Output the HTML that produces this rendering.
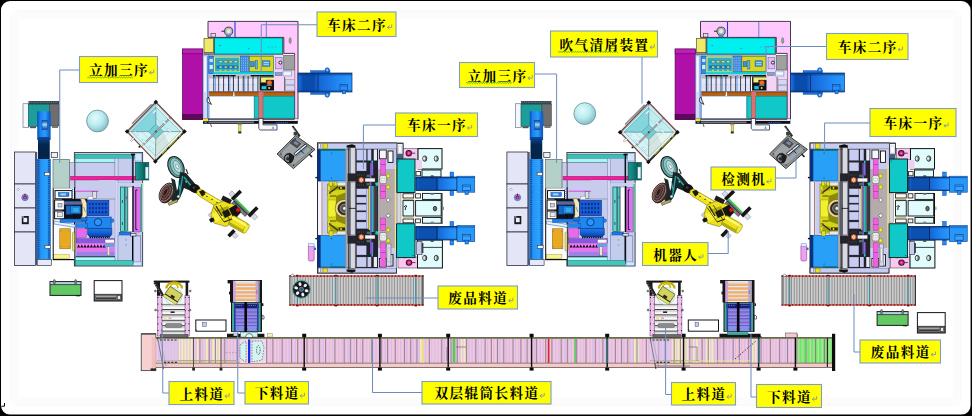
<!DOCTYPE html>
<html><head><meta charset="utf-8"><title>layout</title>
<style>html,body{margin:0;padding:0;background:#000;overflow:hidden;font-family:"Liberation Sans",sans-serif}svg{display:block}.lb{font-family:"Liberation Serif","Noto Serif CJK SC",serif;font-size:13.6px;font-weight:bold;fill:#000}</style>
</head><body>
<svg width="972" height="416" viewBox="0 0 972 416">
<defs>

<linearGradient id="colG" x1="0" x2="1" y1="0" y2="0"><stop offset="0" stop-color="#0a4aa8"/><stop offset=".2" stop-color="#1a80f0"/><stop offset=".6" stop-color="#2a9cff"/><stop offset="1" stop-color="#0c50b0"/></linearGradient>
<linearGradient id="navG" x1="0" x2="0" y1="0" y2="1"><stop offset="0" stop-color="#0c4a9c"/><stop offset=".35" stop-color="#04264e"/><stop offset="1" stop-color="#032447"/></linearGradient>
<linearGradient id="colG2" x1="0" x2="1" y1="0" y2="0"><stop offset="0" stop-color="#1568c8"/><stop offset=".3" stop-color="#2496f4"/><stop offset=".7" stop-color="#2ea2ff"/><stop offset="1" stop-color="#1568c8"/></linearGradient>
<linearGradient id="cylH" x1="0" x2="0" y1="0" y2="1"><stop offset="0" stop-color="#0a4aa8"/><stop offset=".45" stop-color="#9adcff"/><stop offset="1" stop-color="#0a4aa8"/></linearGradient>
<linearGradient id="tealCyl" x1="0" x2="1" y1="0" y2="0"><stop offset="0" stop-color="#1a9a92"/><stop offset=".45" stop-color="#0e7a74"/><stop offset=".7" stop-color="#0a5a56"/><stop offset="1" stop-color="#0e7a74"/></linearGradient>
<linearGradient id="baseG" x1="0" x2="0" y1="0" y2="1"><stop offset="0" stop-color="#1c7cf0"/><stop offset=".5" stop-color="#1460d8"/><stop offset="1" stop-color="#0a3a98"/></linearGradient>
<pattern id="gridP" width="3.2" height="4.1" patternUnits="userSpaceOnUse" x="88.4" y="202"><rect width="3.2" height="4.1" fill="#1560e0"/><rect x=".5" y=".7" width="1.7" height="2.6" fill="#0a2a78"/></pattern>
<radialGradient id="sphG" cx=".4" cy=".36" r=".68"><stop offset="0" stop-color="#e0fbfc"/><stop offset=".5" stop-color="#bcecf0"/><stop offset="1" stop-color="#7fbcc4"/></radialGradient>
<linearGradient id="convL" x1="0" x2="1" y1="0" y2="0"><stop offset="0" stop-color="#1c78ec"/><stop offset=".25" stop-color="#0a4cac"/><stop offset=".8" stop-color="#0a4cac"/><stop offset="1" stop-color="#1868d8"/></linearGradient>
<linearGradient id="convR" x1="0" x2="1" y1="0" y2="0"><stop offset="0" stop-color="#1464d4"/><stop offset=".6" stop-color="#2088f4"/><stop offset="1" stop-color="#2a98fc"/></linearGradient>
<linearGradient id="convV" x1="0" x2="0" y1="0" y2="1"><stop offset="0" stop-color="#062a68" stop-opacity=".75"/><stop offset=".18" stop-color="#062a68" stop-opacity="0"/><stop offset=".85" stop-color="#062a68" stop-opacity="0"/><stop offset="1" stop-color="#062a68" stop-opacity=".55"/></linearGradient>
<pattern id="rollP" width="2.7" height="10" patternUnits="userSpaceOnUse"><rect width="2.7" height="10" fill="#b8b8b8"/><rect x="0" width=".65" height="10" fill="#7e7e7e"/><rect x="1.3" width=".75" height="10" fill="#e6e6e6"/></pattern>
<pattern id="pinkP" width="3.1" height="10" patternUnits="userSpaceOnUse"><rect width="3.1" height="10" fill="#f8c8d2"/><rect x=".2" width="1.4" height="10" fill="#d4bcf2"/></pattern>
<pattern id="pinkY" width="3.1" height="10" patternUnits="userSpaceOnUse"><rect width="3.1" height="10" fill="#f2f0b0"/><rect x=".2" width="1.4" height="10" fill="#e4c4f0"/></pattern>
<pattern id="greenP" width="3.9" height="10" patternUnits="userSpaceOnUse"><rect width="3.9" height="10" fill="#62f062"/><rect x="2.5" width="1.1" height="10" fill="#f4c8d0"/></pattern>
<pattern id="orgP" width="10" height="3.75" patternUnits="userSpaceOnUse" y="282.4"><rect width="10" height="3.75" fill="#c8c8c8"/><rect y="0" width="10" height=".9" fill="#f4f4f4"/><rect y="1.5" width="10" height="2.25" fill="#f2b070"/></pattern>
<pattern id="purP" width="10" height="3.4" patternUnits="userSpaceOnUse" y="308"><rect width="10" height="3.4" fill="#5c5cd0"/><rect y="1.1" width="10" height="1.5" fill="#a07cd4"/><rect y="2.6" width="10" height=".8" fill="#86a0e8"/></pattern>
<pattern id="slatP" width="10" height="5.4" patternUnits="userSpaceOnUse" y="303.6"><rect width="10" height="5.4" fill="#fafafa"/><rect y="0" width="10" height="1.1" fill="#3a3a3a"/><rect y="1.1" width="10" height="1.9" fill="#d4d4d4"/></pattern>

<g id="mA">
<rect x="23" y="103.75" width="5.75" height="23.75" fill="#f4f6fa" stroke="#5a6a80" stroke-width="0.6"/>
<rect x="28.5" y="101" width="30.5" height="3.6" fill="#3a4448"/>
<path d="M29 102.2L58 102.2" stroke="#5a9ad0" stroke-width="0.8" fill="none" stroke-dasharray="1.2 1"/>
<rect x="28.5" y="104.4" width="21.1" height="21.85" fill="#1d9e9a" stroke="#0c5a58" stroke-width="0.6"/>
<rect x="49.4" y="104.4" width="9.6" height="21.6" fill="#6e6e6e" stroke="#404040" stroke-width="0.5"/>
<rect x="30" y="126.25" width="6" height="1.95" fill="#555"/>
<rect x="52" y="126" width="6" height="2" fill="#777"/>
<rect x="14.4" y="152" width="21" height="32" fill="#e4e6f8" stroke="#2a2f3a" stroke-width="0.8"/>
<rect x="14.4" y="184" width="21" height="24" fill="#e4e6f8" stroke="#2a2f3a" stroke-width="0.8"/>
<rect x="14.4" y="208" width="21" height="24" fill="#e4e6f8" stroke="#2a2f3a" stroke-width="0.8"/>
<rect x="14.4" y="232" width="21" height="33.4" fill="#e4e6f8" stroke="#2a2f3a" stroke-width="0.8"/>
<rect x="35.4" y="152" width="1.8" height="113.4" fill="#4a5a78"/>
<circle cx="25" cy="197.5" r="3.2" fill="#6aa8e8" stroke="#2a5ab0" stroke-width="0.6"/>
<circle cx="25" cy="197.5" r="2.1" fill="#c01850"/>
<circle cx="25" cy="197.8" r="0.9" fill="#6a80d8"/>
<path d="M25 193.6L25 196" stroke="#a01040" stroke-width="1" fill="none" />
<path d="M18.3 188.2L19.5 189.4L18.3 190.6L17.1 189.4Z" fill="#fff" stroke="#444" stroke-width="0.4"/>
<rect x="21.8" y="216" width="7" height="8.2" fill="#1a1a22"/>
<rect x="23.4" y="217.8" width="3.8" height="4.4" fill="#f0f0f4"/>
<rect x="22" y="216.2" width="2" height="1.6" fill="#5a9ae0"/>
<rect x="37.25" y="111.25" width="13.35" height="28.75" fill="url(#colG)"/>
<rect x="38" y="137" width="11.75" height="22" fill="url(#navG)"/>
<rect x="37" y="159" width="13.8" height="106.4" fill="url(#colG2)"/>
<path d="M38.6 160L38.6 259" stroke="#0c4a9a" stroke-width="1.6" fill="none" stroke-dasharray="1 1.1"/>
<path d="M48.9 160L48.9 259" stroke="#0c4a9a" stroke-width="1.6" fill="none" stroke-dasharray="1 1.1"/>
<rect x="37.2" y="259.4" width="14.4" height="6" fill="#e6e8fa" stroke="#2a2f3a" stroke-width="0.6"/>
<rect x="42" y="120.6" width="5.5" height="8.8" fill="url(#cylH)" stroke="#0a3a80" stroke-width="0.5"/>
<path d="M47.5 119L51 116.5L51 125L47.5 125Z" fill="#1464d0"/>
<rect x="51.25" y="152.5" width="6.25" height="5.1" fill="#eef0fa" stroke="#2a2f3a" stroke-width="0.7"/>
<rect x="44.6" y="172.4" width="5.2" height="3.2" fill="#f6f6f6" stroke="#223" stroke-width="0.5"/>
<rect x="45" y="245.4" width="5.6" height="3" fill="#f6f6f6" stroke="#223" stroke-width="0.5"/>
<rect x="53" y="159.4" width="16.6" height="28.8" fill="#b5d0c8" stroke="#4a5a60" stroke-width="0.6"/>
<rect x="74.4" y="152.5" width="68.2" height="113.5" fill="#c8ccec" stroke="#4a4a52" stroke-width="1"/>
<rect x="69.6" y="162.5" width="4.8" height="25.9" fill="#c8ccec" stroke="#5a6078" stroke-width="0.5"/>
<rect x="75.2" y="154.2" width="59.8" height="4" fill="#3dbfb0" stroke="#1a6a66" stroke-width="0.4"/>
<rect x="135" y="153.4" width="6.8" height="7.6" fill="#d8e4f8" stroke="#5a9ae0" stroke-width="0.5"/>
<rect x="75.2" y="158.6" width="39.8" height="4" fill="#a8f4f4" stroke="#2a8a9a" stroke-width="0.4"/>
<rect x="75.2" y="162.6" width="39.8" height="36.4" fill="#c8ccec" stroke="#5a6078" stroke-width="0.5"/>
<rect x="118" y="158.6" width="14" height="24.4" fill="#c8ccec" stroke="#5a9ae0" stroke-width="0.5"/>
<rect x="115" y="158.6" width="3" height="102" fill="#d4d8f4" stroke="#7a86b0" stroke-width="0.4"/>
<rect x="70.6" y="176.25" width="69" height="3.75" fill="#f0209c" stroke="#901060" stroke-width="0.4"/>
<rect x="135.6" y="162.5" width="13.2" height="17.5" fill="url(#tealCyl)" stroke="#083c3a" stroke-width="0.6"/>
<rect x="145.2" y="167" width="3.2" height="11.6" fill="#e8f4f8" stroke="#3a8ab0" stroke-width="0.4"/>
<rect x="132.2" y="154.4" width="1.4" height="31" fill="#0a0a10"/>
<rect x="131" y="153.6" width="4" height="1.8" fill="#0a0a10"/>
<rect x="119.4" y="184.4" width="12.6" height="2.6" fill="#1a7af0" stroke="#0a3a90" stroke-width="0.4"/>
<rect x="119.4" y="232" width="11.6" height="2.8" fill="#1a7af0" stroke="#0a3a90" stroke-width="0.4"/>
<rect x="118" y="183" width="25" height="49" fill="#c8d0f0"/>
<rect x="120.4" y="187" width="4" height="44.6" fill="#60d8d0" stroke="#0c3c3a" stroke-width="0.6"/>
<rect x="125" y="187" width="2.4" height="44.6" fill="#50c8c0" stroke="#0c3c3a" stroke-width="0.5"/>
<rect x="128" y="187" width="4.4" height="44.6" fill="#ffffff" stroke="#555" stroke-width="0.4"/>
<rect x="132.4" y="186" width="1.4" height="46" fill="#08080c"/>
<rect x="133.8" y="187.5" width="6.8" height="44.5" fill="#e070f0" stroke="#602080" stroke-width="0.4"/>
<path d="M137.6 190L135.8 190L135.8 229.6L137.6 229.6" fill="none" stroke="#101018" stroke-width="0.9"/>
<rect x="141" y="184" width="1.2" height="48" fill="#20c060"/>
<path d="M122.4 200L122.4 203" stroke="#1a2a8a" stroke-width="0.8" fill="none" />
<path d="M122.4 222L122.4 225" stroke="#1a2a8a" stroke-width="0.8" fill="none" />
<path d="M126.4 196L126.4 199" stroke="#c020c0" stroke-width="0.8" fill="none" />
<rect x="118" y="235.6" width="22.2" height="25.2" fill="#c4ccec" stroke="#5a8ad8" stroke-width="0.5"/>
<rect x="132" y="235" width="1.6" height="28.8" fill="#08080c"/>
<rect x="133.6" y="236" width="6.6" height="26" fill="#ccd2f0" stroke="#4a6a9a" stroke-width="0.4"/>
<path d="M125 240L127 240" stroke="#5a8ad8" stroke-width="0.7" fill="none" />
<path d="M125 245L127 245" stroke="#5a8ad8" stroke-width="0.7" fill="none" />
<rect x="130.4" y="233.6" width="5.6" height="2.4" fill="#dfe6fa" stroke="#111" stroke-width="0.5"/>
<rect x="70.6" y="188.2" width="28.2" height="2.8" fill="#c8ccec"/>
<path d="M76 191.2L98.8 191.2" stroke="#e040e0" stroke-width="1" fill="none" />
<rect x="98.8" y="180" width="16.2" height="18.2" fill="#c8ccec"/>
<rect x="53.4" y="188.6" width="21" height="71.4" fill="#fafbff"/>
<rect x="55" y="190.6" width="17" height="8.2" fill="#fdfdff" stroke="#0a0a10" stroke-width="1"/>
<rect x="58.4" y="192.4" width="10.6" height="4.2" fill="#2a84e4" stroke="#0a3a90" stroke-width="0.4"/>
<rect x="60.4" y="193.4" width="5.6" height="2" fill="#a8d4fa"/>
<rect x="62" y="198.8" width="25.2" height="22.2" fill="#12121a"/>
<path d="M74.6 187.5L74.6 228" stroke="#0a0a10" stroke-width="1.2" fill="none" />
<path d="M72.6 189L72.6 199" stroke="#2a7ad8" stroke-width="1.2" fill="none" stroke-dasharray="1 1"/>
<rect x="54.6" y="200" width="9.8" height="10" fill="#fdfdff" stroke="#0a0a10" stroke-width="1"/>
<rect x="54.6" y="211" width="9.8" height="7.8" fill="#fdfdff" stroke="#0a0a10" stroke-width="1"/>
<rect x="58" y="203.4" width="4" height="3.6" fill="#d0d4e8" stroke="#333" stroke-width="0.4"/>
<rect x="57.6" y="212.6" width="5" height="4.2" fill="#e8eaf6" stroke="#333" stroke-width="0.4"/>
<path d="M66 210.5L76 210.5" stroke="#0a0a10" stroke-width="1.2" fill="none" />
<path d="M54 221L75 224.5L75 227.4L54 224Z" fill="#eaf2fc" stroke="#1a5ab0" stroke-width="0.5"/>
<rect x="60" y="219" width="26" height="3.4" fill="#1a80ec" stroke="#0a3a90" stroke-width="0.4"/>
<rect x="64" y="201.4" width="20" height="3.2" fill="#2a8ae8"/>
<path d="M64 203L83 203" stroke="#c03020" stroke-width="0.9" fill="none" />
<path d="M80.6 198.8L84.5 198.8L87 203.5L87 215.5L84.5 220.2L80.6 220.2L82.4 215L82.4 204Z" fill="#f8e8b0" stroke="#9a8a50" stroke-width="0.4"/>
<rect x="66" y="205.6" width="6" height="8.8" fill="#1868c8" stroke="#0a2a70" stroke-width="0.4"/>
<rect x="70.6" y="206" width="10.2" height="7.8" fill="#2090e0" stroke="#0a3a80" stroke-width="0.6"/>
<rect x="73" y="207.6" width="6" height="4.6" fill="#3aa8f0" stroke="#1a5ab0" stroke-width="0.3"/>
<path d="M83.6 207L85.4 212" stroke="#2a7ad8" stroke-width="0.7" fill="none" />
<rect x="92.6" y="191.6" width="3.8" height="7" fill="#e0e0e4" stroke="#445" stroke-width="0.5"/>
<rect x="88" y="196.4" width="5" height="3" fill="#f4f4f8" stroke="#667" stroke-width="0.3"/>
<rect x="87" y="200.6" width="21.8" height="15" fill="#1560e0" stroke="#0a2a80" stroke-width="0.7"/>
<rect x="88.4" y="202" width="19" height="12.4" fill="url(#gridP)"/>
<rect x="85.6" y="217" width="25.6" height="11.4" fill="#1e88f0" stroke="#0a3a90" stroke-width="0.6"/>
<rect x="81" y="217.6" width="6" height="3.4" fill="#1a70d8" stroke="#0a3a90" stroke-width="0.4"/>
<rect x="76" y="223.6" width="11.6" height="3.8" fill="#1e88f0" stroke="#0a3a90" stroke-width="0.4"/>
<circle cx="98" cy="222.2" r="3.7" fill="#2a96f8" stroke="#0a3080" stroke-width="0.9"/>
<circle cx="112.2" cy="220.6" r="1.8" fill="#1e88f0" stroke="#0a3a90" stroke-width="0.4"/>
<path d="M87.6 228.4L111.8 228.4L111.8 234.4L109.6 237L89.8 237L87.6 234.4Z" fill="url(#baseG)" stroke="#062060" stroke-width="0.5"/>
<path d="M89.6 237.6L110 237.6" stroke="#050510" stroke-width="1.2" fill="none" stroke-dasharray="1.3 .9"/>
<rect x="59.75" y="228.75" width="10.65" height="20.05" fill="#e8a820" stroke="#8a6010" stroke-width="0.5"/>
<circle cx="61" cy="231" r="0.55" fill="#3a90d0"/>
<circle cx="69" cy="231" r="0.55" fill="#3a90d0"/>
<circle cx="61" cy="246.6" r="0.55" fill="#3a90d0"/>
<circle cx="69" cy="246.6" r="0.55" fill="#3a90d0"/>
<rect x="72.5" y="232" width="3.5" height="19" fill="#f0e870" stroke="#7a7430" stroke-width="0.5" rx="1.2"/>
<rect x="53.75" y="254.4" width="15.65" height="4.4" fill="#f8f488" stroke="#9a9440" stroke-width="0.4"/>
<path d="M53 259.6L74.4 259.6" stroke="#0a0a10" stroke-width="1.2" fill="none" />
<path d="M53.2 188.4L53.2 260" stroke="#0a0a10" stroke-width="1" fill="none" />
<rect x="76.25" y="228.75" width="10.15" height="8.75" fill="#e868f0" stroke="#803090" stroke-width="0.4"/>
<rect x="76.25" y="238.75" width="38.35" height="4.45" fill="#8858e0" stroke="#3a2080" stroke-width="0.4"/>
<rect x="105" y="239.4" width="9.4" height="3.6" fill="#f8f8ff" stroke="#556" stroke-width="0.4"/>
<rect x="76.25" y="243.4" width="38.35" height="4.6" fill="#f078f0"/>
<path d="M77 247.4 l1.6 -3 1.6 3 1.6 -3 1.6 3 1.6 -3 1.6 3 1.6 -3 1.6 3 1.6 -3 1.6 3 1.6 -3 1.6 3 1.6 -3 1.6 3 1.6 -3 1.6 3 1.6 -3 1.6 3z" fill="#0a0a14"/>
<rect x="104.6" y="244" width="10" height="3" fill="#5aa8e8"/>
<rect x="76.25" y="248" width="38.35" height="3.4" fill="#f070f0"/>
<rect x="76.25" y="251.4" width="38.35" height="4.4" fill="#a080e8"/>
<rect x="107.2" y="246.8" width="2.6" height="9" fill="#e8e8d8" stroke="#666" stroke-width="0.4"/>
<path d="M75.6 256.4L115 256.4" stroke="#3a3a48" stroke-width="1" fill="none" />
<rect x="75" y="257.2" width="40" height="3.6" fill="#b0f8f8" stroke="#2a8a9a" stroke-width="0.4"/>
<rect x="75" y="260.8" width="58" height="4.4" fill="#40c8b8" stroke="#1a6a66" stroke-width="0.4"/>
<rect x="133.6" y="262" width="8" height="3.4" fill="#d8e4f8" stroke="#5a9ae0" stroke-width="0.4"/>
<path d="M74.9 228L74.9 266" stroke="#3a3a48" stroke-width="1" fill="none" />
</g>
<g id="l2">
<rect x="182.6" y="49" width="20.2" height="70.4" fill="#b010a8" stroke="#400840" stroke-width="0.7"/>
<rect x="182.6" y="49" width="20.2" height="4.8" fill="#c41cbc" stroke="#400840" stroke-width="0.5"/>
<rect x="182.6" y="114.4" width="20.2" height="5" fill="#600860" stroke="#300430" stroke-width="0.5"/>
<path d="M208 21.4L298 21.4L298 119L294.6 119L294.6 53.4L283.8 53.4L283.8 37.4L208 37.4Z" fill="#ffc8ff" stroke="#2a2a32" stroke-width="0.9"/>
<path d="M235 22L235 37" stroke="#1a40d8" stroke-width="1.1" fill="none" />
<path d="M266.3 22L266.3 37" stroke="#3a70d0" stroke-width="0.8" fill="none" />
<circle cx="228.6" cy="31.2" r="4.1" fill="#b8bcc0" stroke="#3a3a3a" stroke-width="0.9"/>
<circle cx="228.6" cy="31.2" r="2.6" fill="#e6e8ea" stroke="#8a8a8a" stroke-width="0.5"/>
<path d="M221.5 31.2L224.6 31.2" stroke="#222" stroke-width="1" fill="none" />
<rect x="226" y="35" width="5" height="2" fill="#3a8ad0"/>
<rect x="211" y="33.6" width="4.4" height="3.4" fill="#e8d8f0" stroke="#333" stroke-width="0.6"/>
<ellipse cx="290.2" cy="40.6" rx="1.1" ry="3" fill="#9ab09a" stroke="#4a5a4a" stroke-width="0.5"/>
<rect x="204" y="38.5" width="9.4" height="13.9" fill="#f0e868" stroke="#5a5630" stroke-width="0.7"/>
<rect x="204" y="52.4" width="9.4" height="2.6" fill="#8a8a80" stroke="#444" stroke-width="0.4"/>
<rect x="214.25" y="37.75" width="68.55" height="16.45" fill="#00f0f0" stroke="#3a3a40" stroke-width="1"/>
<path d="M214.4 54.6L283 54.6" stroke="#777" stroke-width="0.8" fill="none" />
<rect x="268" y="46.6" width="1.2" height="0.8" fill="#2a8ad8"/>
<rect x="271.6" y="46.6" width="1.2" height="0.8" fill="#2a8ad8"/>
<rect x="275.2" y="46.6" width="1.2" height="0.8" fill="#2a8ad8"/>
<rect x="219" y="45" width="1.4" height="1" fill="#2a8ad8"/>
<rect x="248" y="48" width="1.2" height="1" fill="#2a8ad8"/>
<rect x="203" y="55" width="5.8" height="63.6" fill="#d4daf6" stroke="#4a6ab0" stroke-width="0.5"/>
<rect x="204.2" y="57" width="1.8" height="35" fill="#f4f6ff"/>
<path d="M207.6 56L207.6 118" stroke="#2a7ad8" stroke-width="0.8" fill="none" />
<rect x="208.8" y="55.4" width="65.2" height="19" fill="#2a9ad8"/>
<rect x="208.8" y="56.4" width="5" height="17.2" fill="#3a8ae0" stroke="#1a4a90" stroke-width="0.4"/>
<rect x="209.6" y="59" width="3.2" height="3" fill="#c8e4fa"/>
<rect x="209.6" y="65" width="3.2" height="4" fill="#d8ecfc"/>
<rect x="214.4" y="57" width="25.6" height="15" fill="#30b0c0" stroke="#e8e870" stroke-width="1.2"/>
<rect x="216.6" y="60.2" width="21.4" height="3.2" fill="#3a98b8"/>
<rect x="216.6" y="65.4" width="21.4" height="3.2" fill="#1a70c0"/>
<rect x="219.6" y="61" width="2.2" height="1.4" fill="#f0e850"/>
<rect x="219.6" y="66.4" width="2.2" height="1.4" fill="#f0e850"/>
<rect x="219.6" y="69.8" width="1.8" height="1" fill="#f0e850"/>
<rect x="224.6" y="61" width="2.2" height="1.4" fill="#f0e850"/>
<rect x="224.6" y="66.4" width="2.2" height="1.4" fill="#f0e850"/>
<rect x="224.6" y="69.8" width="1.8" height="1" fill="#f0e850"/>
<rect x="229.6" y="61" width="2.2" height="1.4" fill="#f0e850"/>
<rect x="229.6" y="66.4" width="2.2" height="1.4" fill="#f0e850"/>
<rect x="229.6" y="69.8" width="1.8" height="1" fill="#f0e850"/>
<rect x="234.6" y="61" width="2.2" height="1.4" fill="#f0e850"/>
<rect x="234.6" y="66.4" width="2.2" height="1.4" fill="#f0e850"/>
<rect x="234.6" y="69.8" width="1.8" height="1" fill="#f0e850"/>
<rect x="227.2" y="60" width="1.4" height="4.5" fill="#a08040"/>
<rect x="240.4" y="56" width="9" height="16.4" fill="#3a88e0" stroke="#1a4a90" stroke-width="0.4"/>
<path d="M241.6 57.4L241.6 71" stroke="#9ac8f4" stroke-width="0.7" fill="none" stroke-dasharray="1.6 .8"/>
<path d="M243.6 57.4L243.6 71" stroke="#9ac8f4" stroke-width="0.7" fill="none" stroke-dasharray="1.6 .8"/>
<path d="M245.6 57.4L245.6 71" stroke="#9ac8f4" stroke-width="0.7" fill="none" stroke-dasharray="1.6 .8"/>
<path d="M247.4 57.4L247.4 71" stroke="#9ac8f4" stroke-width="0.7" fill="none" stroke-dasharray="1.6 .8"/>
<rect x="249.4" y="56.25" width="24.2" height="15.15" fill="#d8d820" stroke="#6a6a20" stroke-width="0.5"/>
<rect x="250.6" y="61.5" width="3.8" height="5.3" fill="#3a90e0" stroke="#1a4a90" stroke-width="0.4"/>
<rect x="255.2" y="60.4" width="2.2" height="8.6" fill="#5ab0f0" stroke="#1a4a90" stroke-width="0.4"/>
<rect x="262.5" y="60.8" width="7.5" height="5.6" fill="#3a90e0" stroke="#1a4a90" stroke-width="0.4"/>
<rect x="263.6" y="62" width="5.4" height="1.2" fill="#a8d8fa"/>
<rect x="263.6" y="64.2" width="5.4" height="1" fill="#a8d8fa"/>
<rect x="213.4" y="72.2" width="60.6" height="2.2" fill="#10d0d8"/>
<rect x="208.8" y="74.6" width="49.8" height="17" fill="#d8dcf4"/>
<rect x="208.8" y="74.6" width="49.8" height="3.8" fill="#b8b8c4"/>
<rect x="209.6" y="79" width="3.6" height="5" fill="#e6e8fa"/>
<rect x="209.6" y="85" width="3.6" height="6" fill="#dfe2f8"/>
<path d="M213.85 76L213.85 91.4" stroke="#22222a" stroke-width="0.9" fill="none" />
<rect x="214.5" y="79" width="3.6" height="5" fill="#e6e8fa"/>
<rect x="214.5" y="85" width="3.6" height="6" fill="#dfe2f8"/>
<path d="M218.75 76L218.75 91.4" stroke="#22222a" stroke-width="0.9" fill="none" />
<rect x="219.4" y="79" width="3.6" height="5" fill="#e6e8fa"/>
<rect x="219.4" y="85" width="3.6" height="6" fill="#dfe2f8"/>
<path d="M223.65 76L223.65 91.4" stroke="#22222a" stroke-width="0.9" fill="none" />
<rect x="224.3" y="79" width="3.6" height="5" fill="#e6e8fa"/>
<rect x="224.3" y="85" width="3.6" height="6" fill="#dfe2f8"/>
<path d="M228.55 76L228.55 91.4" stroke="#22222a" stroke-width="0.9" fill="none" />
<rect x="229.2" y="79" width="3.6" height="5" fill="#e6e8fa"/>
<rect x="229.2" y="85" width="3.6" height="6" fill="#dfe2f8"/>
<path d="M233.45 76L233.45 91.4" stroke="#22222a" stroke-width="0.9" fill="none" />
<rect x="234.1" y="79" width="3.6" height="5" fill="#e6e8fa"/>
<rect x="234.1" y="85" width="3.6" height="6" fill="#dfe2f8"/>
<path d="M238.35 76L238.35 91.4" stroke="#22222a" stroke-width="0.9" fill="none" />
<rect x="239" y="79" width="3.6" height="5" fill="#e6e8fa"/>
<rect x="239" y="85" width="3.6" height="6" fill="#dfe2f8"/>
<path d="M243.25 76L243.25 91.4" stroke="#22222a" stroke-width="0.9" fill="none" />
<rect x="243.9" y="79" width="3.6" height="5" fill="#e6e8fa"/>
<rect x="243.9" y="85" width="3.6" height="6" fill="#dfe2f8"/>
<path d="M248.15 76L248.15 91.4" stroke="#22222a" stroke-width="0.9" fill="none" />
<rect x="248.8" y="79" width="3.6" height="5" fill="#e6e8fa"/>
<rect x="248.8" y="85" width="3.6" height="6" fill="#dfe2f8"/>
<path d="M253.05 76L253.05 91.4" stroke="#22222a" stroke-width="0.9" fill="none" />
<rect x="253.7" y="79" width="3.6" height="5" fill="#e6e8fa"/>
<rect x="253.7" y="85" width="3.6" height="6" fill="#dfe2f8"/>
<path d="M257.95 76L257.95 91.4" stroke="#22222a" stroke-width="0.9" fill="none" />
<path d="M213 75.7L235.6 75.7" stroke="#08080c" stroke-width="1.3" fill="none" />
<path d="M250.6 75.7L273.6 75.7" stroke="#08080c" stroke-width="1.3" fill="none" />
<path d="M215.4 75L215.4 91.4" stroke="#3a8ad8" stroke-width="0.7" fill="none" />
<path d="M229.8 75L229.8 91.4" stroke="#3a8ad8" stroke-width="0.7" fill="none" />
<path d="M244.6 75L244.6 91.4" stroke="#3a8ad8" stroke-width="0.7" fill="none" />
<rect x="259.6" y="76.4" width="24.2" height="14.2" fill="#101016"/>
<path d="M260.8 77.2L282 77.2L282 82.6L276 82.6L276 80L266 80L266 82.6L260.8 82.6Z" fill="#f0ec80" stroke="#6a6a30" stroke-width="0.4"/>
<rect x="276.4" y="83.4" width="6.2" height="6.2" fill="#c8cce8" stroke="#445" stroke-width="0.4"/>
<circle cx="269.4" cy="82.8" r="2.6" fill="#f07020" stroke="#803008" stroke-width="0.5"/>
<rect x="261.6" y="86" width="4.8" height="3.2" fill="#20c8e0" stroke="#0a5a70" stroke-width="0.4"/>
<circle cx="269.2" cy="88" r="1" fill="#f0e040"/>
<rect x="266.4" y="85" width="5.6" height="1" fill="#2a80d8"/>
<rect x="274" y="55.2" width="20.6" height="36.2" fill="#f4d4f4"/>
<rect x="275.6" y="57.5" width="6.4" height="11.3" fill="#f0b8f0" stroke="#3a80d0" stroke-width="0.6"/>
<circle cx="280.4" cy="62.6" r="1.5" fill="#fff" stroke="#111" stroke-width="0.9"/>
<rect x="283.75" y="55.6" width="10.65" height="14.4" fill="#a0a0a0" stroke="#555" stroke-width="0.6"/>
<rect x="275" y="72.5" width="7" height="3.1" fill="#8aa0c8" stroke="#3a5a90" stroke-width="0.4"/>
<rect x="283" y="71" width="8.4" height="5" fill="#e8ecf8" stroke="#5a80c0" stroke-width="0.5"/>
<rect x="284.4" y="73" width="5.6" height="1" fill="#fff"/>
<rect x="285.6" y="79.4" width="8.8" height="4.8" fill="#d4d8f4" stroke="#778" stroke-width="0.4"/>
<rect x="285.6" y="85.2" width="8.8" height="5.2" fill="#d4d8f4" stroke="#778" stroke-width="0.4"/>
<path d="M284.6 77L284.6 91" stroke="#333" stroke-width="0.7" fill="none" />
<rect x="209.4" y="92" width="23.6" height="3.7" fill="#b86010" stroke="#5a2c04" stroke-width="0.4"/>
<rect x="234.8" y="92" width="23.6" height="3.7" fill="#b86010" stroke="#5a2c04" stroke-width="0.4"/>
<rect x="263.6" y="92" width="30.8" height="3.7" fill="#b86010" stroke="#5a2c04" stroke-width="0.4"/>
<path d="M208.8 91.7L294.6 91.7" stroke="#2a2a30" stroke-width="0.6" fill="none" />
<rect x="209.25" y="96.4" width="44.75" height="22.4" fill="#ffffff" stroke="#5a8ad0" stroke-width="0.4"/>
<path d="M208.4 97L207.2 98.4L207.2 101.6L209.6 103.4L211.4 104.4L209.6 101Z" fill="#fff" stroke="#111" stroke-width="0.8"/>
<rect x="254.4" y="96.25" width="40" height="21.95" fill="#10c8c8" stroke="#0a5a5a" stroke-width="0.5"/>
<rect x="258.75" y="91.2" width="4.25" height="27" fill="#e07070" stroke="#904040" stroke-width="0.4"/>
<rect x="203" y="118.6" width="94.8" height="5.2" fill="#101014"/>
<rect x="208.4" y="119.6" width="88.6" height="1.4" fill="#d4d8f0"/>
<rect x="208.4" y="121.6" width="45.6" height="1.2" fill="#909090"/>
<path d="M276 122.6L288 122.6" stroke="#2a7ad8" stroke-width="0.8" fill="none" stroke-dasharray="1.4 .8"/>
<rect x="203" y="118.5" width="5" height="2.8" fill="#f0e040"/>
<rect x="204.6" y="121.8" width="2.2" height="1.4" fill="#3a8ae0"/>
<rect x="294.6" y="118.6" width="3.2" height="2.4" fill="#e8e8f8"/>
<path d="M258.75 118.4L263 118.4L263 124.8L277 124.8L277 130L260.2 130L258.75 128.6Z" fill="#f8f8ff" stroke="#2a2a3a" stroke-width="0.8"/>
<path d="M271.6 128.8L273 126L274.4 128.8Z" fill="#5aa0e8"/>
<rect x="238.6" y="124" width="2.4" height="9" fill="#f0e050" stroke="#6a6420" stroke-width="0.4"/>
<rect x="238.4" y="131.4" width="2.8" height="2" fill="#20303a"/>
<rect x="237.6" y="123.8" width="4.4" height="1.4" fill="#a0a090"/>
<path d="M210.6 124L211.6 127" stroke="#222" stroke-width="0.7" fill="none" />
<rect x="310.6" y="70.6" width="19.4" height="2.8" fill="#1a74e4" stroke="#0a3a90" stroke-width="0.4"/>
<rect x="310.6" y="91.6" width="19.4" height="2.8" fill="#1a74e4" stroke="#0a3a90" stroke-width="0.4"/>
<circle cx="327.25" cy="70" r="2.2" fill="#2a8af4" stroke="#0a3a90" stroke-width="0.6"/>
<circle cx="327.25" cy="95" r="2.2" fill="#2a8af4" stroke="#0a3a90" stroke-width="0.6"/>
<circle cx="327.25" cy="70" r="0.8" fill="#bfe0ff"/>
<circle cx="327.25" cy="95" r="0.8" fill="#bfe0ff"/>
<rect x="298" y="73" width="20" height="19" fill="url(#convL)"/>
<rect x="318" y="73" width="34" height="19" fill="url(#convR)"/>
<rect x="298" y="73" width="54" height="19" fill="url(#convV)" stroke="#08306e" stroke-width="0.7"/>
<path d="M318 73.4L318 91.6" stroke="#062a68" stroke-width="0.9" fill="none" />
<rect x="340" y="84.4" width="7.5" height="5.8" fill="#2a90f8" stroke="#0a3a90" stroke-width="0.6"/>
<rect x="342.5" y="90.2" width="3.1" height="3.6" fill="#2a90f8" stroke="#0a3a90" stroke-width="0.5"/>
<path d="M340.4 86L347 86" stroke="#0a3a90" stroke-width="0.5" fill="none" />
</g>
<g id="dia">
<path d="M132 123.8L151.6 104.2" stroke="#8a8a92" stroke-width="1.4" fill="none" />
<path d="M133.4 125.2L153 105.6" stroke="#e8e8f0" stroke-width="0.8" fill="none" />
<path d="M127.1 131.6L155.8 102L155.8 124.2L148.4 131.6Z" fill="#84d6de"/>
<path d="M155.8 102L184.5 131.6L163.2 131.6L155.8 124.2Z" fill="#bfeef0"/>
<path d="M127.1 131.6L148.4 131.6L155.8 139L155.3 161.4Z" fill="#d2f4f4"/>
<path d="M155.3 161.4L155.8 139L163.2 131.6L184.5 131.6Z" fill="#e4f6f4"/>
<path d="M155.8 160L155.8 139L163.2 131.6L170 145.8Z" fill="#d4e4e0"/>
<path d="M148.4 131.6L155.8 124.2L163.2 131.6L155.8 139Z" fill="#6ecfd6" stroke="#3a7a80" stroke-width="0.5"/>
<path d="M141.8 131.6L155.8 117.6L169.8 131.6L155.8 145.6Z" fill="none" stroke="#9cc8cc" stroke-width="0.4"/>
<path d="M127.1 131.6L148.4 131.6" stroke="#4a6a70" stroke-width="0.6" fill="none" />
<path d="M155.8 102L155.8 124.2" stroke="#4a6a70" stroke-width="0.6" fill="none" />
<path d="M184.5 131.6L163.2 131.6" stroke="#4a6a70" stroke-width="0.6" fill="none" />
<path d="M155.3 161.4L155.8 139" stroke="#4a6a70" stroke-width="0.6" fill="none" />
<path d="M142.6 145.4L171 117" stroke="#8a8e90" stroke-width="2" fill="none" />
<path d="M142.6 145.4L171 117" stroke="#b8bcbe" stroke-width="0.7" fill="none" />
<rect x="152" y="113" width="5" height="1.6" rx=".8" fill="#f4ffff" stroke="#6aa0c8" stroke-width=".35" transform="rotate(-45 152 113)"/>
<rect x="163" y="120" width="5" height="1.6" rx=".8" fill="#f4ffff" stroke="#6aa0c8" stroke-width=".35" transform="rotate(45 163 120)"/>
<rect x="168" y="128" width="5" height="1.6" rx=".8" fill="#f4ffff" stroke="#6aa0c8" stroke-width=".35" transform="rotate(45 168 128)"/>
<rect x="135" y="131" width="5" height="1.6" rx=".8" fill="#f4ffff" stroke="#6aa0c8" stroke-width=".35" transform="rotate(45 135 131)"/>
<rect x="143" y="139" width="5" height="1.6" rx=".8" fill="#f4ffff" stroke="#6aa0c8" stroke-width=".35" transform="rotate(45 143 139)"/>
<rect x="150" y="146" width="5" height="1.6" rx=".8" fill="#f4ffff" stroke="#6aa0c8" stroke-width=".35" transform="rotate(45 150 146)"/>
<path d="M130 131.6L155.8 105.8L181.6 131.6L155.8 157.4Z" fill="none" stroke="#f4fcfc" stroke-width="1"/>
<path d="M131 131.6L155.8 106.8L180.6 131.6L155.8 156.4Z" fill="none" stroke="#5a8088" stroke-width="0.4"/>
<path d="M127.1 131.6L155.8 102L184.5 131.6" fill="none" stroke="#a85a58" stroke-width="1.5"/>
<path d="M127.1 131.6L155.3 161.4" fill="none" stroke="#a85a58" stroke-width="1.3"/>
<path d="M155.3 161.4L184.5 131.6" fill="none" stroke="#20201c" stroke-width="1.8"/>
<path d="M161.8 154L181.2 134.6" stroke="#d8d020" stroke-width="1.1" fill="none" stroke-dasharray="7 3 12 2"/>
<path d="M127.1 131.6L155.8 102L184.5 131.6L155.3 161.4Z" fill="none" stroke="#38383c" stroke-width="0.5"/>
<rect x="154.2" y="100.4" width="3.2" height="3.2" fill="#101014" transform="rotate(45 155.8 102)"/>
<rect x="182.9" y="130" width="3.2" height="3.2" fill="#101014" transform="rotate(45 184.5 131.6)"/>
<rect x="153.7" y="159.8" width="3.2" height="3.2" fill="#101014" transform="rotate(45 155.3 161.4)"/>
<rect x="125.5" y="130" width="3.2" height="3.2" fill="#101014" transform="rotate(45 127.1 131.6)"/>
<circle cx="155.8" cy="131.6" r="1" fill="#444"/>
<rect x="130.6" y="139" width="4" height="1.8" fill="#fff" stroke="#445" stroke-width=".4" transform="rotate(-45 132 140)"/>
<rect x="138.6" y="146" width="1.8" height="1.6" fill="#111"/>
</g>
<g id="rob">
<g transform="rotate(28 167 193)">
<ellipse cx="167" cy="193" rx="7" ry="10.6" fill="#4a2e2c" stroke="#201010" stroke-width="0.8"/>
<ellipse cx="166.2" cy="193" rx="5.4" ry="9.4" fill="none" stroke="#a88a88" stroke-width="0.8"/>
<ellipse cx="165.6" cy="193" rx="3.6" ry="7.2" fill="none" stroke="#8a6a68" stroke-width="0.7"/>
<ellipse cx="165.2" cy="193" rx="1.8" ry="4.4" fill="#2a1a1a" stroke="#9a7a78" stroke-width="0.5"/>
</g>
<g transform="rotate(-24 176 167)">
<ellipse cx="176" cy="167" rx="7.6" ry="11" fill="#6aa4a4" stroke="#12201e" stroke-width="1.1"/>
<ellipse cx="176.6" cy="167" rx="5.6" ry="9.4" fill="#8cc6c6" stroke="#2a4a48" stroke-width="0.6"/>
<ellipse cx="177.2" cy="167" rx="3.4" ry="6.4" fill="#b4dede" stroke="#3a5a58" stroke-width="0.5"/>
<ellipse cx="177.4" cy="167" rx="1.4" ry="2.6" fill="#e8f8f8" stroke="#3a5a58" stroke-width="0.4"/>
</g>
<path d="M171 178L175 180L178 196L175 203L171 200L174 192Z" fill="#1c2a2a"/>
<path d="M180 172L186 173L197 186L193 192L184 188L180 198L176 203L174 199L178 188Z" fill="#1a2626"/>
<path d="M182.6 176L179.4 196" stroke="#20a0a0" stroke-width="1.5" fill="none" />
<path d="M184 177L192 187" stroke="#2aa8a8" stroke-width="1.4" fill="none" />
<path d="M178 181L180 190" stroke="#58c8c8" stroke-width="0.8" fill="none" />
<circle cx="178.4" cy="196.4" r="1.5" fill="#d8f0f0" stroke="#223" stroke-width="0.4"/>
<circle cx="186.4" cy="181.6" r="1.3" fill="#58c8c8" stroke="#122" stroke-width="0.4"/>
<path d="M168 203L177 199.4L178 201.6L169 205.4Z" fill="#b8a868" stroke="#3a3420" stroke-width="0.5"/>
<path d="M186 169L188 174" stroke="#2a2a2a" stroke-width="1.1" fill="none" />
<ellipse cx="195" cy="188.6" rx="5.6" ry="4.4" fill="#121212" transform="rotate(25 195 188.6)"/>
<circle cx="194" cy="187.6" r="1.4" fill="#3a3a3a"/>
<path d="M197 190.4L200 188.8L224 202.8L221 209.6L199 196L196.6 193.6Z" fill="#f0e41c" stroke="#6a6408" stroke-width="0.5"/>
<path d="M199 191.4L203 189.8L206.4 193.4L202 196.6Z" fill="#1c1c10"/>
<path d="M205 193.4L222 203.6" stroke="#fff870" stroke-width="1.2" fill="none" />
<circle cx="207" cy="196.4" r="0.7" fill="#3a3408"/>
<circle cx="212" cy="199.4" r="0.7" fill="#3a3408"/>
<circle cx="217" cy="202.4" r="0.7" fill="#3a3408"/>
<g transform="translate(244.8 203.45) rotate(45)">
<rect x="-9.8" y="3.8" width="19.6" height="5.6" fill="#6e6e72"/>
<rect x="-9.6" y="5.4" width="19.2" height="1" fill="#3a3a3e"/>
<rect x="6" y="6.6" width="2.6" height="2" fill="#d040c0"/>
<rect x="3" y="7" width="2.4" height="1.6" fill="#30c050"/>
<rect x="-18" y="0.2" width="4.8" height="4.4" fill="#d8dce8" stroke="#667" stroke-width="0.4"/>
<rect x="13.6" y="0.4" width="5" height="4.4" fill="#d8dce8" stroke="#667" stroke-width="0.4"/>
<rect x="-13.5" y="-6" width="3.6" height="12.2" fill="#151518"/>
<rect x="9.9" y="-6" width="3.6" height="12.2" fill="#151518"/>
<rect x="-9.9" y="2.6" width="19.8" height="1.4" fill="#20d040"/>
<rect x="-13.5" y="29" width="3.6" height="8" fill="#151518"/>
<rect x="9.9" y="26.4" width="3.6" height="8.2" fill="#151518"/>
<rect x="-17.6" y="30" width="4.2" height="4" fill="#d8dce8" stroke="#667" stroke-width="0.4"/>
<rect x="13.6" y="27.6" width="4.4" height="4" fill="#d8dce8" stroke="#667" stroke-width="0.4"/>
</g>
<path d="M214 205L224 200.6L235 205L238.6 214L235 221L226 226.6L214 223L210.6 215Z" fill="#ece01c" stroke="#5a5408" stroke-width="0.5"/>
<path d="M216 210L228 206L232 214L222 220Z" fill="#b4aa10"/>
<path d="M212 214L220 211L224 218L216 222Z" fill="#f8f040"/>
<path d="M214 207.4L224 222" stroke="#3a3608" stroke-width="0.8" fill="none" />
<path d="M220 205L230 220" stroke="#3a3608" stroke-width="0.8" fill="none" />
<path d="M229 208.4L236 204.6L241 212.6L234 219.4Z" fill="#141416"/>
<path d="M223 195.6L232 200L230 204L221 200Z" fill="#1c1c1c"/>
<circle cx="238" cy="210" r="2" fill="#e81818" stroke="#700" stroke-width="0.4"/>
<path d="M209.4 219L213.4 217.4L214.6 221L210.6 222.6Z" fill="#161616"/>
<path d="M207.6 214L210.4 213L211 215.6L208.4 216.6Z" fill="#c8ccd8"/>
<g transform="rotate(30 239.5 225)">
<rect x="229" y="219.6" width="18.4" height="10.6" fill="#ece01c" stroke="#6a6408" stroke-width="0.5" rx="2"/>
<ellipse cx="247" cy="224.9" rx="2" ry="5.2" fill="#f4ec30" stroke="#6a6408" stroke-width="0.4"/>
<rect x="229" y="221" width="17" height="2.2" fill="#fff870"/>
<rect x="229" y="227.4" width="17" height="2.4" fill="#b4aa10"/>
</g>
<path d="M222 212L228 209L231 215L225 218Z" fill="#1a1a10"/>
<path d="M216 206L222 216" stroke="#2a2808" stroke-width="1.4" fill="none" />
<path d="M224 222L232 219" stroke="#2a2808" stroke-width="1.2" fill="none" />
</g>
<g id="det">
<path d="M295.6 135.5L315 149.4L293.4 168.6L277 154Z" fill="#909494" stroke="#3a3c3e" stroke-width="1"/>
<path d="M295.4 138L311.8 149.6L293.2 166L279.8 154Z" fill="#a0a4a6" stroke="#5a5c5e" stroke-width="0.5"/>
<path d="M291.6 126.4L293.4 125.6L300.6 135.8L298.6 137.2Z" fill="#2a2c30"/>
<path d="M292.4 127.4L297.6 134.6" stroke="#e8e8ee" stroke-width="0.7" fill="none" />
<rect x="293.6" y="132" width="3.8" height="3.4" fill="#3a3c40"/>
<path d="M294 139L301 143.8L297 148L290 143Z" fill="#4a4e52" stroke="#222" stroke-width="0.4"/>
<path d="M295.2 141L299 143.6L297 145.6L293.4 143Z" fill="#7a8ab0"/>
<path d="M294.6 154.6L306.4 144.6" stroke="#1a1c20" stroke-width="3.2" fill="none" />
<path d="M295 154.2L306 145" stroke="#f2f4fa" stroke-width="1.5" fill="none" />
<path d="M296.4 156.4L307.6 147" stroke="#3a8ad8" stroke-width="0.9" fill="none" />
<path d="M300 149.6L304 153.6" stroke="#222" stroke-width="1" fill="none" />
<circle cx="288.8" cy="158.2" r="4.6" fill="#1c1e22" stroke="#0a0a0c" stroke-width="0.6"/>
<circle cx="288.4" cy="158.4" r="3.1" fill="#6a7074" stroke="#c8ccd0" stroke-width="0.6"/>
<circle cx="287.8" cy="158.8" r="1.6" fill="#2a2c30"/>
<path d="M289 152.6L294.6 156L292 162.4L289 163.4Z" fill="#1c1e22"/>
<circle cx="281" cy="154" r="0.7" fill="#2a2a2a"/>
<circle cx="295.6" cy="139" r="0.7" fill="#2a2a2a"/>
<circle cx="311.6" cy="149.6" r="0.7" fill="#2a2a2a"/>
<circle cx="293.6" cy="165" r="0.7" fill="#2a2a2a"/>
<path d="M309.6 153.4L312.6 156.6L311.4 157.6L308.6 154.6Z" fill="#1a1a1e"/>
</g>
<g id="l1">
<rect x="308.4" y="245" width="5.8" height="16" fill="#f0a0f0" stroke="#703070" stroke-width="0.5" rx="1.5"/>
<rect x="308.6" y="243.8" width="5.4" height="2.6" fill="#e8ecfa" stroke="#3a6ab0" stroke-width="0.4"/>
<rect x="314" y="247.6" width="2" height="2.4" fill="#2a6ad0"/>
<rect x="317.5" y="143" width="78.9" height="130" fill="#dcdff6" stroke="#2a2a32" stroke-width="1"/>
<rect x="317.5" y="143" width="85.5" height="6.2" fill="#c8ccf0" stroke="#2a2a32" stroke-width="0.8"/>
<rect x="317.5" y="267.8" width="78.9" height="5.2" fill="#c8ccf0" stroke="#2a2a32" stroke-width="0.8"/>
<rect x="323" y="143.7" width="4.5" height="5" fill="#e8e020" stroke="#6a6410" stroke-width="0.4"/>
<rect x="323" y="268.2" width="4.5" height="4.4" fill="#e8e020" stroke="#6a6410" stroke-width="0.4"/>
<rect x="318.4" y="143.8" width="2.2" height="4.8" fill="#f4f4fa" stroke="#444" stroke-width="0.4"/>
<rect x="318.4" y="268" width="2.2" height="4.4" fill="#f4f4fa" stroke="#444" stroke-width="0.4"/>
<rect x="318" y="181" width="4.6" height="55" fill="#f2f3fc"/>
<path d="M322 182L322 235" stroke="#8a4a2a" stroke-width="0.7" fill="none" />
<rect x="323" y="181" width="4.2" height="55" fill="#c8ccf0"/>
<rect x="317.5" y="149.4" width="3.3" height="32" fill="#083080"/>
<rect x="320.6" y="150" width="25" height="31" fill="#28a0f8" stroke="#0a4a90" stroke-width="0.6"/>
<circle cx="331.6" cy="153" r="0.6" fill="#0a3a80"/>
<circle cx="331.6" cy="178" r="0.6" fill="#0a3a80"/>
<rect x="317.5" y="235" width="3.3" height="32.4" fill="#083080"/>
<rect x="320.6" y="235.6" width="25" height="31.4" fill="#28a0f8" stroke="#0a4a90" stroke-width="0.6"/>
<circle cx="331.6" cy="238.6" r="0.6" fill="#0a3a80"/>
<circle cx="331.6" cy="264" r="0.6" fill="#0a3a80"/>
<rect x="320.6" y="149" width="25" height="1.6" fill="#0c6a62"/>
<rect x="330" y="266.6" width="15.6" height="1.4" fill="#0c6a62"/>
<path d="M315.4 177.6L317.5 177.6" stroke="#111" stroke-width="1.4" fill="none" />
<path d="M315.4 238.6L317.5 238.6" stroke="#111" stroke-width="1.4" fill="none" />
<rect x="327.5" y="184" width="19.5" height="49" fill="#e4e420" stroke="#5a5a10" stroke-width="0.5"/>
<path d="M327.5 196L334 190L347 190L347 227L334 227L327.5 221Z" fill="#d4d418"/>
<rect x="328" y="200" width="8" height="17" fill="#f0f030" stroke="#8a8a10" stroke-width="0.4"/>
<path d="M330 186L338 184.5L338 190L330 192Z" fill="#a8a810"/>
<path d="M330 231L338 232.5L338 227L330 225Z" fill="#a8a810"/>
<path d="M336 196L347 192L347 225L336 221Z" fill="#8a8a08"/>
<path d="M329 193.4L338 186.6" stroke="#2a2a08" stroke-width="1.3" fill="none" />
<path d="M329 223.6L338 230.4" stroke="#2a2a08" stroke-width="1.3" fill="none" />
<path d="M330 196L336 196" stroke="#3a3a08" stroke-width="0.9" fill="none" />
<path d="M330 221L336 221" stroke="#3a3a08" stroke-width="0.9" fill="none" />
<rect x="338.4" y="186.4" width="7" height="3.2" fill="#2a2a10"/>
<rect x="338.4" y="227.4" width="7" height="3.2" fill="#2a2a10"/>
<circle cx="341" cy="188" r="1" fill="#e8e020"/>
<circle cx="341" cy="229" r="1" fill="#e8e020"/>
<circle cx="344.2" cy="208.4" r="9" fill="#f0d890" stroke="#6a5a20" stroke-width="0.6"/>
<circle cx="344.4" cy="208.4" r="6.6" fill="#2a2a20" stroke="#111" stroke-width="0.4"/>
<circle cx="344.4" cy="208.4" r="4.4" fill="#5a5a50" stroke="#c8c8c0" stroke-width="0.5"/>
<circle cx="344.4" cy="208.4" r="1.4" fill="#fafafa"/>
<rect x="337" y="182.6" width="10" height="2.8" fill="#e8e8f4" stroke="#666" stroke-width="0.3"/>
<rect x="337" y="231.6" width="10" height="2.8" fill="#e8e8f4" stroke="#666" stroke-width="0.3"/>
<rect x="329" y="181.6" width="3.4" height="4.4" fill="#e4e420" stroke="#5a5a10" stroke-width="0.4"/>
<rect x="334" y="181.6" width="3" height="4.4" fill="#e4e420" stroke="#5a5a10" stroke-width="0.4"/>
<rect x="329" y="231" width="4" height="5" fill="#e4e420" stroke="#5a5a10" stroke-width="0.4"/>
<path d="M328.6 190L331 194" stroke="#c04080" stroke-width="0.7" fill="none" />
<path d="M328.6 227L331 223" stroke="#c04080" stroke-width="0.7" fill="none" />
<rect x="345.4" y="149.4" width="2" height="118.2" fill="#a4a4ac"/>
<rect x="347.8" y="147" width="1.8" height="122.4" fill="#46464e"/>
<rect x="350.2" y="147.6" width="5" height="28" fill="#d8d8e0" stroke="#333" stroke-width="0.5"/>
<rect x="350.2" y="182" width="5" height="53" fill="#d8d8e0" stroke="#333" stroke-width="0.5"/>
<rect x="350.2" y="241.4" width="5" height="27.2" fill="#d8d8e0" stroke="#333" stroke-width="0.5"/>
<rect x="347.6" y="173.4" width="8.4" height="8" fill="#24242c"/>
<rect x="347.6" y="235.6" width="8.4" height="8" fill="#24242c"/>
<rect x="347" y="181.6" width="3.2" height="53.8" fill="#5c5c64"/>
<path d="M349 208.4L356 208.4" stroke="#111" stroke-width="0.8" fill="none" />
<path d="M346.6 145.4L352 144.2L355.4 145.4L355.4 147.4L346.6 147.4Z" fill="#111"/>
<path d="M346.6 271.6L352 272.8L355.4 271.6L355.4 269.6L346.6 269.6Z" fill="#111"/>
<rect x="355.6" y="149" width="22.4" height="119" fill="#22222a"/>
<rect x="356.6" y="149.4" width="9.8" height="11.1" fill="#c8ccf0" stroke="#5a5a70" stroke-width="0.3"/>
<rect x="356.6" y="162.4" width="9.8" height="8.6" fill="#c8ccf0" stroke="#5a5a70" stroke-width="0.3"/>
<rect x="356.6" y="188.75" width="9.8" height="6.25" fill="#c8ccf0" stroke="#5a5a70" stroke-width="0.3"/>
<rect x="356.6" y="197" width="9.8" height="6" fill="#c8ccf0" stroke="#5a5a70" stroke-width="0.3"/>
<rect x="356.6" y="204.4" width="9.8" height="6.2" fill="#c8ccf0" stroke="#5a5a70" stroke-width="0.3"/>
<rect x="356.6" y="212" width="9.8" height="8" fill="#c8ccf0" stroke="#5a5a70" stroke-width="0.3"/>
<rect x="356.6" y="222" width="9.8" height="6.75" fill="#c8ccf0" stroke="#5a5a70" stroke-width="0.3"/>
<rect x="356.6" y="245.6" width="9.8" height="9.4" fill="#c8ccf0" stroke="#5a5a70" stroke-width="0.3"/>
<rect x="356.6" y="257" width="9.8" height="10" fill="#c8ccf0" stroke="#5a5a70" stroke-width="0.3"/>
<rect x="367.5" y="149.4" width="3.75" height="11.1" fill="#c8ccf0"/>
<rect x="373.75" y="149.4" width="3.25" height="11.1" fill="#e8eaf8"/>
<rect x="367.5" y="257" width="3.75" height="10" fill="#c8ccf0"/>
<rect x="373.75" y="257" width="3.25" height="10" fill="#e8eaf8"/>
<rect x="366.4" y="188.75" width="2.2" height="40" fill="#c8ccf0"/>
<rect x="368.75" y="186" width="1.25" height="44" fill="#e8e030"/>
<rect x="370" y="163" width="1.4" height="91" fill="#8060e0"/>
<rect x="371.4" y="186" width="1.8" height="46" fill="#20c0c0"/>
<rect x="371" y="163" width="2.2" height="12.5" fill="#8868e8" stroke="#332" stroke-width="0.3"/>
<rect x="371" y="242" width="2.2" height="12" fill="#8868e8" stroke="#332" stroke-width="0.3"/>
<rect x="371.4" y="160.6" width="1.6" height="2.4" fill="#20c8c8"/>
<rect x="371.4" y="254" width="1.6" height="2.6" fill="#20c8c8"/>
<rect x="374.4" y="186" width="3" height="46" fill="#3a3a44"/>
<path d="M373.8 186L373.8 232" stroke="#c8c8d0" stroke-width="0.5" fill="none" />
<circle cx="361.25" cy="180" r="2.2" fill="#f8f8f8" stroke="#e06020" stroke-width="1.1"/>
<circle cx="361.25" cy="180" r="0.9" fill="#e8a080"/>
<rect x="365" y="178.1" width="10" height="3.8" fill="#f4f4f4" stroke="#555" stroke-width="0.4"/>
<rect x="366.6" y="174.6" width="4" height="2.4" fill="#4a6a70"/>
<rect x="366.6" y="183" width="4" height="2.4" fill="#4a6a70"/>
<path d="M375 183L378.4 182L378.4 185.4L376 186Z" fill="#20c8c8"/>
<path d="M357 175L364 175" stroke="#6a6a70" stroke-width="0.6" fill="none" stroke-dasharray="1 1"/>
<path d="M357 185L364 185" stroke="#6a6a70" stroke-width="0.6" fill="none" stroke-dasharray="1 1"/>
<circle cx="361.25" cy="237" r="2.2" fill="#f8f8f8" stroke="#e06020" stroke-width="1.1"/>
<circle cx="361.25" cy="237" r="0.9" fill="#e8a080"/>
<rect x="365" y="235.1" width="10" height="3.8" fill="#f4f4f4" stroke="#555" stroke-width="0.4"/>
<rect x="366.6" y="231.6" width="4" height="2.4" fill="#4a6a70"/>
<rect x="366.6" y="240" width="4" height="2.4" fill="#4a6a70"/>
<path d="M375 234L378.4 235L378.4 231.6L376 231Z" fill="#20c8c8"/>
<path d="M357 232L364 232" stroke="#6a6a70" stroke-width="0.6" fill="none" stroke-dasharray="1 1"/>
<path d="M357 242L364 242" stroke="#6a6a70" stroke-width="0.6" fill="none" stroke-dasharray="1 1"/>
<rect x="378" y="149.2" width="18.4" height="118.8" fill="#b4acac"/>
<rect x="378" y="149.2" width="18.4" height="19.8" fill="#c8ccf0"/>
<rect x="378" y="248" width="18.4" height="20" fill="#c8ccf0"/>
<rect x="379.4" y="150" width="6.85" height="8.8" fill="#f6f6fa" stroke="#111" stroke-width="0.8"/>
<rect x="379.4" y="258.4" width="6.85" height="8.6" fill="#f6f6fa" stroke="#111" stroke-width="0.8"/>
<rect x="388" y="151" width="5" height="11.4" fill="#fafafa" stroke="#111" stroke-width="0.9"/>
<rect x="388" y="254.6" width="5" height="11.4" fill="#e8e8ee" stroke="#111" stroke-width="0.9"/>
<rect x="389.4" y="153" width="2.2" height="7.4" fill="#fff"/>
<rect x="380.6" y="159" width="5" height="16" fill="#f060e0" stroke="#902080" stroke-width="0.3"/>
<rect x="380.6" y="185" width="5" height="13.75" fill="#f060e0" stroke="#902080" stroke-width="0.3"/>
<rect x="380.6" y="218" width="5" height="12.6" fill="#f060e0" stroke="#902080" stroke-width="0.3"/>
<rect x="380.6" y="242.5" width="5" height="24.5" fill="#f060e0" stroke="#902080" stroke-width="0.3"/>
<rect x="380.6" y="164" width="5" height="1" fill="#c040b8"/>
<rect x="380.6" y="252" width="5" height="1" fill="#c040b8"/>
<rect x="380.6" y="191" width="5" height="1" fill="#c040b8"/>
<rect x="380.6" y="224" width="5" height="1" fill="#c040b8"/>
<path d="M380.6 175.5L385.8 175.5L386.6 177.5L386.6 181.6L385.8 183.6L380.6 183.6L379.6 181.6L379.6 177.5Z" fill="#e8e8e8" stroke="#555" stroke-width="0.5"/>
<rect x="381" y="178.55" width="4" height="2" fill="#fafafa" stroke="#999" stroke-width="0.3"/>
<path d="M380.6 232.5L385.8 232.5L386.6 234.5L386.6 239L385.8 241L380.6 241L379.6 239L379.6 234.5Z" fill="#e8e8e8" stroke="#555" stroke-width="0.5"/>
<rect x="381" y="235.75" width="4" height="2" fill="#fafafa" stroke="#999" stroke-width="0.3"/>
<circle cx="388.2" cy="176" r="1.9" fill="#f0f020" stroke="#6a6a10" stroke-width="0.4"/>
<circle cx="388.2" cy="187" r="1.9" fill="#f0f020" stroke="#6a6a10" stroke-width="0.4"/>
<circle cx="388.2" cy="230" r="1.9" fill="#f0f020" stroke="#6a6a10" stroke-width="0.4"/>
<circle cx="388.2" cy="240.6" r="1.9" fill="#f0f020" stroke="#6a6a10" stroke-width="0.4"/>
<path d="M388.2 197.8L390.2 200L388.2 202.2L386.2 200Z" fill="#fff" stroke="#333" stroke-width="0.5"/>
<path d="M388.2 213.4L390.2 215.6L388.2 217.8L386.2 215.6Z" fill="#fff" stroke="#333" stroke-width="0.5"/>
<rect x="386.8" y="244" width="4.2" height="22" fill="#d4d8f0" stroke="#445" stroke-width="0.4"/>
<rect x="388" y="248" width="2" height="14" fill="#f0f0f0" stroke="#666" stroke-width="0.3"/>
<rect x="394.8" y="165" width="1.4" height="87" fill="#f0e090"/>
<rect x="397" y="143.6" width="6" height="10.6" fill="#f6f6fc" stroke="#2a2a32" stroke-width="0.8"/>
<rect x="398.4" y="146" width="3.2" height="7" fill="#fff" stroke="#99a" stroke-width="0.3"/>
<rect x="396.4" y="154.2" width="6.6" height="4.8" fill="#4a5a80"/>
<rect x="403.75" y="148.6" width="14.25" height="10.6" fill="#f8c8f0" stroke="#333" stroke-width="0.5"/>
<rect x="398" y="257" width="19.6" height="11" fill="#f8c8f0" stroke="#333" stroke-width="0.5"/>
<circle cx="408.8" cy="153.2" r="3.2" fill="#18181c"/>
<circle cx="408.8" cy="153.2" r="2.3" fill="#e81890"/>
<circle cx="408.8" cy="153.2" r="0.9" fill="#ff70c0"/>
<path d="M411.8 153.2L415.2 153.2" stroke="#222" stroke-width="0.8" fill="none" />
<circle cx="409" cy="262.6" r="3.2" fill="#18181c"/>
<circle cx="409" cy="262.6" r="2.3" fill="#e81890"/>
<circle cx="409" cy="262.6" r="0.9" fill="#ff70c0"/>
<path d="M412 262.6L415.4 262.6" stroke="#222" stroke-width="0.8" fill="none" />
<rect x="403.75" y="157.6" width="2.25" height="1.6" fill="#c8b040"/>
<rect x="403.75" y="257" width="2.25" height="1.6" fill="#c8b040"/>
<rect x="418" y="148.6" width="24" height="20.4" fill="#e0fcfc" stroke="#111" stroke-width="1"/>
<rect x="422" y="170" width="19" height="7" fill="#e0fcfc" stroke="#111" stroke-width="0.9"/>
<rect x="415.6" y="160" width="6.4" height="9" fill="#f0d0f0"/>
<rect x="416" y="171.6" width="4.6" height="4.2" fill="#fafafa" stroke="#111" stroke-width="0.8"/>
<ellipse cx="424.75" cy="158.6" rx="2" ry="2.7" fill="#8a8a8a" stroke="#111" stroke-width="0.8"/>
<ellipse cx="424.05" cy="158.6" rx="0.9" ry="2" fill="#e8e8e8"/>
<ellipse cx="436.25" cy="158.6" rx="2" ry="2.7" fill="#8a8a8a" stroke="#111" stroke-width="0.8"/>
<ellipse cx="435.55" cy="158.6" rx="0.9" ry="2" fill="#e8e8e8"/>
<path d="M430 176.9L431 175.2L433.4 175.2L434.4 176.9Z" fill="#555"/>
<rect x="396.4" y="192.5" width="45.6" height="31.5" fill="#fdfdfd"/>
<rect x="397" y="193.75" width="4" height="28.75" fill="#d8d8d8" stroke="#666" stroke-width="0.4"/>
<rect x="403" y="193.75" width="10.75" height="4.25" fill="#f8f8f8" stroke="#111" stroke-width="0.8"/>
<rect x="403" y="219" width="10.75" height="3.8" fill="#f8f8f8" stroke="#111" stroke-width="0.8"/>
<rect x="403" y="200.6" width="10.75" height="15.4" fill="#e0fcfc" stroke="#111" stroke-width="0.9"/>
<rect x="415.6" y="193.75" width="4.8" height="4.25" fill="#f8f8f8" stroke="#111" stroke-width="0.8"/>
<rect x="415.6" y="219" width="4.8" height="3.8" fill="#f8f8f8" stroke="#111" stroke-width="0.8"/>
<rect x="415.6" y="200.6" width="25.6" height="15.4" fill="#e0fcfc" stroke="#111" stroke-width="0.9"/>
<rect x="422.5" y="193.4" width="18.7" height="6" fill="#e0fcfc" stroke="#111" stroke-width="0.9"/>
<rect x="422.5" y="217.5" width="18.7" height="5.7" fill="#e0fcfc" stroke="#111" stroke-width="0.9"/>
<path d="M403 199.6L413.75 199.6" stroke="#b0a040" stroke-width="0.9" fill="none" />
<path d="M403 217.2L413.75 217.2" stroke="#b0a040" stroke-width="0.9" fill="none" />
<path d="M404 207L405.4 205.6L407 206.4L405.4 207.4L405.4 210" fill="none" stroke="#111" stroke-width="0.9"/>
<ellipse cx="435" cy="208.6" rx="1.7" ry="2.3" fill="#6a6a6a" stroke="#111" stroke-width="0.7"/>
<path d="M430 193.4L431 195L433.4 195L434.4 193.4Z" fill="#889"/>
<path d="M430 223.2L431 221.6L433.4 221.6L434.4 223.2Z" fill="#889"/>
<path d="M442 193L442 224" stroke="#111" stroke-width="1" fill="none" />
<path d="M443.4 206.6L443.4 210" stroke="#333" stroke-width="0.6" fill="none" />
<rect x="417.5" y="240" width="24.9" height="28" fill="#e0fcfc" stroke="#111" stroke-width="1"/>
<path d="M422 247.4L442 247.4" stroke="#111" stroke-width="0.8" fill="none" />
<rect x="416.7" y="241.4" width="5.3" height="13.3" fill="#c8ccf0" stroke="#334" stroke-width="0.6"/>
<rect x="421.6" y="243" width="1.8" height="10" fill="#3a3a44"/>
<path d="M430 240.2L431 242L433.4 242L434.4 240.2Z" fill="#555"/>
<ellipse cx="424.75" cy="258" rx="2" ry="2.7" fill="#8a8a8a" stroke="#111" stroke-width="0.8"/>
<ellipse cx="424.05" cy="258" rx="0.9" ry="2" fill="#e8e8e8"/>
<ellipse cx="436.25" cy="258" rx="2" ry="2.7" fill="#8a8a8a" stroke="#111" stroke-width="0.8"/>
<ellipse cx="435.55" cy="258" rx="0.9" ry="2" fill="#e8e8e8"/>
<rect x="397" y="159" width="18" height="33.5" fill="#10c8c8" stroke="#0a1a1a" stroke-width="0.9"/>
<rect x="396.6" y="223.75" width="18.4" height="33.85" fill="#10c8c8" stroke="#0a1a1a" stroke-width="0.9"/>
<circle cx="398.8" cy="161" r="0.6" fill="#044"/>
<circle cx="413.2" cy="255.6" r="0.6" fill="#044"/>
<rect x="450" y="172" width="3.75" height="5" fill="#2a88f0" stroke="#0a3a90" stroke-width="0.4"/>
<rect x="450" y="190.6" width="3.75" height="5" fill="#2a88f0" stroke="#0a3a90" stroke-width="0.4"/>
<rect x="415.8" y="177" width="21.2" height="13.6" fill="#0c50b0"/>
<rect x="437" y="177" width="20" height="13.6" fill="url(#convR)"/>
<rect x="415.8" y="177" width="41.2" height="13.6" fill="url(#convV)" stroke="#04204e" stroke-width="0.7"/>
<path d="M437 177.4L437 190.2" stroke="#04204e" stroke-width="0.9" fill="none" />
<path d="M418 177.6L418 190" stroke="#1a6ad8" stroke-width="0.6" fill="none" />
<rect x="457" y="176.2" width="17.75" height="16" fill="#2898f8" stroke="#0a3a90" stroke-width="0.6"/>
<path d="M457 177.6L474.4 177.6" stroke="#0a4aa0" stroke-width="0.8" fill="none" />
<rect x="462.5" y="185" width="8.1" height="5.8" fill="#3aa4fc" stroke="#0a3a90" stroke-width="0.6"/>
<rect x="465" y="190.8" width="3.5" height="3.8" fill="#2a90f8" stroke="#0a3a90" stroke-width="0.5"/>
<path d="M463 186.6L470 186.6" stroke="#0a3a90" stroke-width="0.5" fill="none" />
<rect x="450" y="221.4" width="3.75" height="5" fill="#2a88f0" stroke="#0a3a90" stroke-width="0.4"/>
<rect x="450" y="240" width="3.75" height="5" fill="#2a88f0" stroke="#0a3a90" stroke-width="0.4"/>
<rect x="415.8" y="226.4" width="21.2" height="13.6" fill="#0c50b0"/>
<rect x="437" y="226.4" width="20" height="13.6" fill="url(#convR)"/>
<rect x="415.8" y="226.4" width="41.2" height="13.6" fill="url(#convV)" stroke="#04204e" stroke-width="0.7"/>
<path d="M437 226.8L437 239.6" stroke="#04204e" stroke-width="0.9" fill="none" />
<path d="M418 227L418 239.4" stroke="#1a6ad8" stroke-width="0.6" fill="none" />
<rect x="457" y="225.6" width="17.75" height="16" fill="#2898f8" stroke="#0a3a90" stroke-width="0.6"/>
<path d="M457 227L474.4 227" stroke="#0a4aa0" stroke-width="0.8" fill="none" />
<rect x="462.5" y="234.4" width="8.1" height="5.8" fill="#3aa4fc" stroke="#0a3a90" stroke-width="0.6"/>
<rect x="465" y="240.2" width="3.5" height="3.8" fill="#2a90f8" stroke="#0a3a90" stroke-width="0.5"/>
<path d="M463 236L470 236" stroke="#0a3a90" stroke-width="0.5" fill="none" />
</g>
<g id="ld">
<rect x="162" y="303.6" width="23" height="32.4" fill="url(#slatP)"/>
<rect x="162" y="296" width="23" height="7.6" fill="#f4f4f6"/>
<rect x="157.5" y="295.6" width="4.5" height="40.4" fill="#f0c0f0" stroke="#5a3a5a" stroke-width="0.5"/>
<rect x="185" y="295.6" width="4.4" height="40.4" fill="#f0c0f0" stroke="#5a3a5a" stroke-width="0.5"/>
<path d="M158 297L158 335" stroke="#111" stroke-width="1" fill="none" stroke-dasharray="1 5.6"/>
<path d="M188.9 297L188.9 335" stroke="#111" stroke-width="1" fill="none" stroke-dasharray="1 5.6"/>
<path d="M161.6 297L161.6 335" stroke="#111" stroke-width="0.8" fill="none" stroke-dasharray="1 5.6"/>
<path d="M185.4 297L185.4 335" stroke="#111" stroke-width="0.8" fill="none" stroke-dasharray="1 5.6"/>
<circle cx="173.4" cy="296" r="8.6" fill="#e8f6f6" stroke="#8ac0c0" stroke-width="0.5"/>
<rect x="153.75" y="280.6" width="35.65" height="2" fill="#101014"/>
<rect x="157" y="281" width="3" height="14.6" fill="#18181c"/>
<rect x="185.6" y="281" width="2.6" height="14.6" fill="#18181c"/>
<path d="M153.6 283L156.6 281.4L164 295L161.6 296.4Z" fill="#222"/>
<path d="M155 284L162 296" stroke="#eee" stroke-width="0.6" fill="none" stroke-dasharray="1.4 1.4"/>
<path d="M166.4 288.4 a7.6 6 0 0 1 15.6 0" fill="none" stroke="#c0b000" stroke-width="2.2"/>
<path d="M170.4 288 a3.6 4 0 0 1 7.6 0" fill="none" stroke="#c8b808" stroke-width="1.6"/>
<g transform="rotate(33 173 295.4)">
<rect x="165.6" y="289.4" width="14.8" height="12" fill="#d2d260" stroke="#5a5a18" stroke-width="0.7"/>
<rect x="165.6" y="298" width="14.8" height="1.2" fill="#28281a"/>
<rect x="171.4" y="295.4" width="4" height="2.6" fill="#28281a"/>
<rect x="165.6" y="299.2" width="14.8" height="2.2" fill="#e0e078"/>
</g>
<circle cx="155.4" cy="291" r="1" fill="#7a8a8a" stroke="#333" stroke-width="0.4"/>
<circle cx="190.2" cy="291" r="1" fill="#7a8a8a" stroke="#333" stroke-width="0.4"/>
<circle cx="155.6" cy="310" r="1" fill="#7a8a8a" stroke="#333" stroke-width="0.4"/>
<circle cx="190" cy="310" r="1" fill="#7a8a8a" stroke="#333" stroke-width="0.4"/>
<rect x="163.75" y="317.4" width="2.85" height="1.6" fill="#e8e070"/>
<rect x="168.6" y="317.4" width="2.8" height="1.6" fill="#f0a0a0"/>
<rect x="165.4" y="323.6" width="16.6" height="4" fill="#8a8a90" stroke="#444" stroke-width="0.4" rx="1.5"/>
<rect x="170.6" y="311.4" width="4" height="1.6" fill="#222"/>
<rect x="160.4" y="334.4" width="27.6" height="3" fill="#6a6a6a" stroke="#222" stroke-width="0.4"/>
</g>
<g id="ul">
<rect x="230" y="280" width="32" height="22.4" fill="#14141a"/>
<rect x="233" y="281" width="26.4" height="21" fill="url(#orgP)"/>
<rect x="233" y="280.8" width="26.4" height="1.6" fill="#e8e8e8"/>
<rect x="233" y="281" width="2.6" height="21" fill="#d0a0d8"/>
<rect x="255.6" y="281" width="2.4" height="21" fill="#d0a0d8"/>
<rect x="258" y="281" width="1.4" height="21" fill="#80a0a0"/>
<path d="M256.8 290L256.8 294" stroke="#a060b0" stroke-width="0.8" fill="none" />
<rect x="227.6" y="280" width="3.4" height="3.4" fill="#14141a"/>
<rect x="229" y="291.6" width="1.4" height="2.8" fill="#14141a"/>
<rect x="231" y="302" width="31" height="30" fill="#14141a"/>
<rect x="232" y="302.6" width="28.6" height="28.8" fill="#40a890"/>
<rect x="234.6" y="303.4" width="23.4" height="27.6" fill="url(#purP)"/>
<rect x="234" y="303.75" width="24.6" height="4.25" fill="#201880"/>
<path d="M236.4 305.4L243 305.4" stroke="#30c060" stroke-width="0.9" fill="none" stroke-dasharray="1.2 1"/>
<path d="M248.6 305.4L256 305.4" stroke="#30c060" stroke-width="0.9" fill="none" stroke-dasharray="1.2 1"/>
<circle cx="237" cy="309.6" r="0.7" fill="#30c060"/>
<circle cx="255" cy="309.6" r="0.7" fill="#30c060"/>
<rect x="244.4" y="302" width="2.6" height="30" fill="#08080c"/>
<rect x="234" y="303.4" width="1.6" height="27.6" fill="#2a3aa0"/>
<rect x="257" y="303.4" width="1.6" height="27.6" fill="#2a3aa0"/>
<path d="M262 303L263.4 303.6L263.4 306L262 306Z" fill="#14141a"/>
<path d="M262 315L264 316L264 319L262 319Z" fill="#fff" stroke="#14141a" stroke-width="0.6"/>
<rect x="236" y="326" width="7.6" height="4.6" fill="#8890e8"/>
<rect x="248" y="326" width="8" height="4.6" fill="#8890e8"/>
<rect x="227" y="333.75" width="37.4" height="3.45" fill="#14141a"/>
</g>
<g id="ulb">
<rect x="240.6" y="332.5" width="16.9" height="4.5" fill="#d0f4f4" stroke="#2a6a6a" stroke-width="0.4"/>
<path d="M245.6 337 a3.6 3.4 0 0 1 7.2 0" fill="#e8fcfc" stroke="#1a3a3a" stroke-width=".6"/>
<rect x="233.4" y="333" width="4" height="3" fill="#d8d8e8" stroke="#444" stroke-width="0.3"/>
<rect x="267.5" y="333.75" width="5" height="3.25" fill="#f0f0c0" stroke="#777" stroke-width="0.4"/>
</g>
<g id="sb">
<rect x="195.8" y="320" width="30.2" height="11.2" fill="#ffffff" stroke="#14141a" stroke-width="1"/>
<rect x="202.6" y="322.6" width="3.6" height="3.8" fill="#c8ccf0" stroke="#3a4a8a" stroke-width="0.5"/>
<path d="M196.4 329.6L196.4 330.6" stroke="#111" stroke-width="0.8" fill="none" />
</g>
<g id="gb">
<rect x="50" y="281.6" width="31" height="13.8" fill="#62c862" stroke="#1c1c20" stroke-width="1"/>
<rect x="50.5" y="282.2" width="30" height="2.2" fill="#c0c8f0"/>
<path d="M50 284.6L81 284.6" stroke="#1c1c20" stroke-width="0.7" fill="none" />
<rect x="53.5" y="279.6" width="1.8" height="4.4" fill="#8a8a90" stroke="#222" stroke-width="0.4" rx=".8"/>
<rect x="74.7" y="279.6" width="1.8" height="4.4" fill="#8a8a90" stroke="#222" stroke-width="0.4" rx=".8"/>
<path d="M76 295.8L80 295.8" stroke="#111" stroke-width="1" fill="none" />
</g>
<g id="wb">
<rect x="94.2" y="280.6" width="27.8" height="20.4" fill="#ffffff" stroke="#14141a" stroke-width="1"/>
<rect x="94.6" y="294.2" width="27" height="6.4" fill="#6a6a6a" stroke="#14141a" stroke-width="0.6"/>
<path d="M96 296.4L116 296.4" stroke="#c8c8c8" stroke-width="0.7" fill="none" />
<path d="M96 298.4L116 298.4" stroke="#2a2a2a" stroke-width="0.8" fill="none" />
<rect x="117.4" y="295.6" width="3" height="3.8" fill="#e8e8e8" stroke="#111" stroke-width="0.4"/>
</g>
</defs>
<rect x="1" y="1" width="969.6" height="413.6" rx="9" ry="9" fill="#fff"/>
<rect x="14.8" y="14.8" width="942" height="386" rx="5" fill="none" stroke="#fcfcfd" stroke-width="7.6"/>
<rect x="10.8" y="10.8" width="950" height="394" rx="6" fill="none" stroke="#f4f6f9" stroke-width=".8"/>
<path d="M4.5 403v3.2h-3" stroke="#000" stroke-width="1" fill="none"/>
<use href="#mA" x="0" y="0"/>
<use href="#l2" x="0" y="0"/>
<use href="#dia" x="0" y="0"/>
<use href="#rob" x="0" y="0"/>
<use href="#det" x="0" y="0"/>
<use href="#l1" x="0" y="0"/>
<use href="#mA" x="492.5" y="0"/>
<use href="#l2" x="492.5" y="0"/>
<use href="#dia" x="493" y="0.6"/>
<use href="#rob" x="493.1" y="0"/>
<use href="#det" x="492.5" y="0"/>
<use href="#l1" x="492.5" y="0"/>
<circle cx="97.5" cy="121" r="10.9" fill="url(#sphG)" stroke="#6a8a90" stroke-width="0.8"/>
<circle cx="584.8" cy="113.6" r="10.9" fill="url(#sphG)" stroke="#6a8a90" stroke-width="0.8"/>
<rect x="289.4" y="276.4" width="134.1" height="28.2" fill="url(#rollP)"/>
<rect x="289.4" y="275.4" width="134.1" height="1.3" fill="#d42a2a"/>
<rect x="289.4" y="304.3" width="134.1" height="1.3" fill="#d42a2a"/>
<path d="M289.4 276.05L423.5 276.05" stroke="#300" stroke-width="1.1" fill="none" stroke-dasharray="1.4 2"/>
<path d="M289.4 304.95L423.5 304.95" stroke="#300" stroke-width="1.1" fill="none" stroke-dasharray="1.4 2"/>
<rect x="289.4" y="275.4" width="1" height="30.2" fill="#555"/>
<rect x="422.3" y="275.4" width="1.2" height="30.2" fill="#333"/>
<path d="M297.41 277L297.41 304" stroke="#3a90a8" stroke-width="1.1" fill="none" />
<rect x="296.21" y="274.8" width="2.4" height="1.4" fill="#5a1010"/>
<rect x="296.21" y="305" width="2.4" height="1.4" fill="#5a1010"/>
<path d="M335.83 277L335.83 304" stroke="#3a90a8" stroke-width="1.1" fill="none" />
<rect x="334.63" y="274.8" width="2.4" height="1.4" fill="#5a1010"/>
<rect x="334.63" y="305" width="2.4" height="1.4" fill="#5a1010"/>
<path d="M377.07 277L377.07 304" stroke="#3a90a8" stroke-width="1.1" fill="none" />
<rect x="375.87" y="274.8" width="2.4" height="1.4" fill="#5a1010"/>
<rect x="375.87" y="305" width="2.4" height="1.4" fill="#5a1010"/>
<path d="M415.69 277L415.69 304" stroke="#3a90a8" stroke-width="1.1" fill="none" />
<rect x="414.49" y="274.8" width="2.4" height="1.4" fill="#5a1010"/>
<rect x="414.49" y="305" width="2.4" height="1.4" fill="#5a1010"/>
<path d="M292.4 273.8L294 275.4L292.4 277L290.8 275.4Z" fill="#fff" stroke="#333" stroke-width="0.5"/>
<circle cx="301.4" cy="289.3" r="9" fill="#16161a" stroke="#58b8b8" stroke-width="1"/>
<ellipse cx="306.62" cy="290.7" rx="1.9" ry="1.5" fill="#f0f0f0" transform="rotate(15 306.62 290.7)"/>
<ellipse cx="302.8" cy="294.52" rx="1.9" ry="1.5" fill="#f0f0f0" transform="rotate(75 302.8 294.52)"/>
<ellipse cx="297.58" cy="293.12" rx="1.9" ry="1.5" fill="#f0f0f0" transform="rotate(135 297.58 293.12)"/>
<ellipse cx="296.18" cy="287.9" rx="1.9" ry="1.5" fill="#f0f0f0" transform="rotate(195 296.18 287.9)"/>
<ellipse cx="300" cy="284.08" rx="1.9" ry="1.5" fill="#f0f0f0" transform="rotate(255 300 284.08)"/>
<ellipse cx="305.22" cy="285.48" rx="1.9" ry="1.5" fill="#f0f0f0" transform="rotate(315 305.22 285.48)"/>
<circle cx="301.4" cy="289.3" r="2.2" fill="#3a5a70" stroke="#9ac" stroke-width="0.5"/>
<circle cx="301.4" cy="289.3" r="8" fill="none" stroke="#8aa" stroke-width="0.4" stroke-dasharray="1 1.4"/>
<rect x="781.6" y="276.4" width="134.4" height="28.2" fill="url(#rollP)"/>
<rect x="781.6" y="275.4" width="134.4" height="1.3" fill="#d42a2a"/>
<rect x="781.6" y="304.3" width="134.4" height="1.3" fill="#d42a2a"/>
<path d="M781.6 276.05L916 276.05" stroke="#300" stroke-width="1.1" fill="none" stroke-dasharray="1.4 2"/>
<path d="M781.6 304.95L916 304.95" stroke="#300" stroke-width="1.1" fill="none" stroke-dasharray="1.4 2"/>
<rect x="781.6" y="275.4" width="1" height="30.2" fill="#555"/>
<rect x="914.8" y="275.4" width="1.2" height="30.2" fill="#333"/>
<path d="M789.62 277L789.62 304" stroke="#3a90a8" stroke-width="1.1" fill="none" />
<rect x="788.42" y="274.8" width="2.4" height="1.4" fill="#5a1010"/>
<rect x="788.42" y="305" width="2.4" height="1.4" fill="#5a1010"/>
<path d="M828.14 277L828.14 304" stroke="#3a90a8" stroke-width="1.1" fill="none" />
<rect x="826.94" y="274.8" width="2.4" height="1.4" fill="#5a1010"/>
<rect x="826.94" y="305" width="2.4" height="1.4" fill="#5a1010"/>
<path d="M869.46 277L869.46 304" stroke="#3a90a8" stroke-width="1.1" fill="none" />
<rect x="868.26" y="274.8" width="2.4" height="1.4" fill="#5a1010"/>
<rect x="868.26" y="305" width="2.4" height="1.4" fill="#5a1010"/>
<path d="M908.18 277L908.18 304" stroke="#3a90a8" stroke-width="1.1" fill="none" />
<rect x="906.98" y="274.8" width="2.4" height="1.4" fill="#5a1010"/>
<rect x="906.98" y="305" width="2.4" height="1.4" fill="#5a1010"/>
<path d="M784.6 273.8L786.2 275.4L784.6 277L783 275.4Z" fill="#fff" stroke="#333" stroke-width="0.5"/>
<rect x="141.25" y="333.75" width="14.55" height="36.85" fill="#f8d0d0" stroke="#4a4a4a" stroke-width="0.9"/>
<rect x="151.6" y="337" width="4.2" height="31" fill="#f0c0c0"/>
<path d="M141.25 334L156 334" stroke="#333" stroke-width="1" fill="none" />
<rect x="150.6" y="368.4" width="5.2" height="2.2" fill="#222"/>
<rect x="155.8" y="338.6" width="641.2" height="24.6" fill="url(#pinkP)"/>
<rect x="179" y="338.6" width="14" height="24.6" fill="url(#pinkY)"/>
<rect x="196" y="338.6" width="3" height="24.6" fill="url(#pinkY)"/>
<rect x="205" y="338.6" width="3" height="24.6" fill="url(#pinkY)"/>
<rect x="212" y="338.6" width="9" height="24.6" fill="url(#pinkY)"/>
<rect x="262" y="338.6" width="4" height="24.6" fill="url(#pinkY)"/>
<rect x="420" y="338.6" width="4" height="24.6" fill="url(#pinkY)"/>
<rect x="461" y="338.6" width="5" height="24.6" fill="url(#pinkY)"/>
<rect x="634" y="338.6" width="6" height="24.6" fill="url(#pinkY)"/>
<rect x="672" y="338.6" width="18" height="24.6" fill="url(#pinkY)"/>
<rect x="693" y="338.6" width="6" height="24.6" fill="url(#pinkY)"/>
<rect x="706" y="338.6" width="8" height="24.6" fill="url(#pinkY)"/>
<rect x="752" y="338.6" width="6" height="24.6" fill="url(#pinkY)"/>
<rect x="797" y="338.6" width="38" height="24.6" fill="url(#greenP)"/>
<path d="M200 339V363M209.3 339V363M215.5 339V363M224.8 339V363M237.2 339V363M243.4 339V363M249.6 339V363M257.35 339V363M266.65 339V363M272.85 339V363M282.15 339V363M291.45 339V363M297.65 339V363M306.95 339V363M313.15 339V363M319.35 339V363M325.55 339V363M334.85 339V363M344.15 339V363M350.35 339V363M356.55 339V363M362.75 339V363M372.05 339V363M381.35 339V363M387.55 339V363M395.3 339V363M404.6 339V363M410.8 339V363M417 339V363M429.4 339V363M441.8 339V363M451.1 339V363M457.3 339V363M466.6 339V363M475.9 339V363M485.2 339V363M491.4 339V363M497.6 339V363M503.8 339V363M513.1 339V363M520.85 339V363M527.05 339V363M536.35 339V363M545.65 339V363M551.85 339V363M561.15 339V363M567.35 339V363M576.65 339V363M585.95 339V363M595.25 339V363M603 339V363M615.4 339V363M621.6 339V363M627.8 339V363M637.1 339V363M646.4 339V363M658.8 339V363M665 339V363M674.3 339V363M680.5 339V363M689.8 339V363M702.2 339V363M708.4 339V363M717.7 339V363M723.9 339V363M733.2 339V363M739.4 339V363M748.7 339V363M761.1 339V363M770.4 339V363M779.7 339V363M787.45 339V363M796.75 339V363M806.05 339V363M815.35 339V363M824.65 339V363" stroke="#4a4048" stroke-width=".5" fill="none"/>
<rect x="155.8" y="363.2" width="679.2" height="4.2" fill="#f8c8c8"/>
<path d="M155.8 363.2L835 363.2" stroke="#5a5a40" stroke-width="0.7" fill="none" />
<path d="M155.8 367.5L835 367.5" stroke="#555" stroke-width="0.8" fill="none" />
<path d="M157 360.8L236 360.8" stroke="#a0a060" stroke-width="1.1" fill="none" />
<path d="M650 360.8L700 360.8" stroke="#a0a060" stroke-width="1.1" fill="none" />
<rect x="155.8" y="337" width="679.2" height="1.8" fill="#6a6a4c"/>
<rect x="193.2" y="337" width="0.8" height="30.4" fill="#3a3a30"/>
<rect x="192.2" y="367.6" width="2.8" height="3" fill="#2a2a2a"/>
<rect x="220.6" y="337" width="0.8" height="30.4" fill="#3a3a30"/>
<rect x="219.6" y="367.6" width="2.8" height="3" fill="#2a2a2a"/>
<rect x="303.5" y="337" width="1.4" height="30.4" fill="#0c0c10"/>
<rect x="302.2" y="333.75" width="4" height="3.25" fill="#0c0c10"/>
<rect x="302.2" y="367.6" width="4" height="3" fill="#0c0c10"/>
<rect x="379.2" y="337" width="1.4" height="30.4" fill="#0c0c10"/>
<rect x="377.9" y="333.75" width="4" height="3.25" fill="#0c0c10"/>
<rect x="377.9" y="367.6" width="4" height="3" fill="#0c0c10"/>
<rect x="447.5" y="337" width="1.4" height="30.4" fill="#0c0c10"/>
<rect x="446.2" y="333.75" width="4" height="3.25" fill="#0c0c10"/>
<rect x="446.2" y="367.6" width="4" height="3" fill="#0c0c10"/>
<rect x="530.9" y="337" width="1.4" height="30.4" fill="#0c0c10"/>
<rect x="529.6" y="333.75" width="4" height="3.25" fill="#0c0c10"/>
<rect x="529.6" y="367.6" width="4" height="3" fill="#0c0c10"/>
<rect x="606.5" y="337" width="1.4" height="30.4" fill="#0c0c10"/>
<rect x="605.2" y="333.75" width="4" height="3.25" fill="#0c0c10"/>
<rect x="605.2" y="367.6" width="4" height="3" fill="#0c0c10"/>
<rect x="682.9" y="337" width="1.4" height="30.4" fill="#0c0c10"/>
<rect x="681.6" y="333.75" width="4" height="3.25" fill="#0c0c10"/>
<rect x="681.6" y="367.6" width="4" height="3" fill="#0c0c10"/>
<rect x="757.9" y="337" width="1.4" height="30.4" fill="#0c0c10"/>
<rect x="756.6" y="333.75" width="4" height="3.25" fill="#0c0c10"/>
<rect x="756.6" y="367.6" width="4" height="3" fill="#0c0c10"/>
<rect x="794.7" y="337" width="1.4" height="30.4" fill="#0c0c10"/>
<rect x="793.4" y="333.75" width="4" height="3.25" fill="#0c0c10"/>
<rect x="793.4" y="367.6" width="4" height="3" fill="#0c0c10"/>
<rect x="832" y="333.75" width="3.2" height="37.25" fill="#0c0c10"/>
<rect x="826.8" y="338" width="1.2" height="29" fill="#222"/>
<rect x="785.6" y="333" width="11.4" height="4.4" fill="#f8c8d0" stroke="#444" stroke-width="0.5"/>
<rect x="547.8" y="338.8" width="1.6" height="24.2" fill="#e82020"/>
<rect x="574.4" y="338.8" width="1.4" height="24.2" fill="#40d040"/>
<rect x="606.4" y="338.8" width="1.8" height="24.2" fill="#2a6a6a"/>
<rect x="452.6" y="338.8" width="2.8" height="24.2" fill="#58c858"/>
<rect x="371" y="338.8" width="1.6" height="24.2" fill="#9a9a9a"/>
<rect x="758" y="338.8" width="1.6" height="24.2" fill="#2a6a6a"/>
<rect x="422.6" y="338.8" width="1.2" height="24.2" fill="#e8e850"/>
<rect x="240" y="339" width="26" height="24" fill="#f0d8ec" stroke="none" stroke-width="0.6"/>
<path d="M252 341L262 341L264 348L262 360L252 362Z" fill="#d4f4f4" stroke="#333" stroke-width="0.5" stroke-dasharray="1.6 1.2"/>
<path d="M240 345L246 341L246 362L240 358Z" fill="#d4f4f4" stroke="#333" stroke-width="0.5" stroke-dasharray="1.6 1.2"/>
<rect x="248" y="339.4" width="2.3" height="23.6" fill="#1030e0"/>
<ellipse cx="258.4" cy="350" rx="1.8" ry="4.4" fill="none" stroke="#222" stroke-width="0.7" stroke-dasharray="1.4 1"/>
<path d="M226 352.6L238 352.6" stroke="#888" stroke-width="0.6" fill="none" stroke-dasharray="1.5 1.5"/>
<path d="M157.6 337.6L163.4 369" fill="none" stroke="#2a2a2a" stroke-width="0.9"/>
<path d="M160 338L166 366" fill="none" stroke="#666" stroke-width="0.5"/>
<rect x="158" y="339" width="20.6" height="24" fill="#d8c8f0" stroke="none" stroke-width="0" opacity=".45"/>
<path d="M160 340L178 340" stroke="#333" stroke-width="1.2" fill="none" stroke-dasharray="2.2 1.4"/>
<path d="M164 362.4L178 362.4" stroke="#333" stroke-width="1.2" fill="none" stroke-dasharray="2.2 1.4"/>
<path d="M650.1 337.6L655.9 369" fill="none" stroke="#2a2a2a" stroke-width="0.9"/>
<path d="M652.5 338L658.5 366" fill="none" stroke="#666" stroke-width="0.5"/>
<rect x="650.5" y="339" width="20.6" height="24" fill="#d8c8f0" stroke="none" stroke-width="0" opacity=".45"/>
<path d="M652.5 340L670.5 340" stroke="#333" stroke-width="1.2" fill="none" stroke-dasharray="2.2 1.4"/>
<path d="M656.5 362.4L670.5 362.4" stroke="#333" stroke-width="1.2" fill="none" stroke-dasharray="2.2 1.4"/>
<path d="M684 361L752 361" stroke="#e8e8a0" stroke-width="1.2" fill="none" />
<path d="M735 359L756 341" stroke="#222" stroke-width="0.8" fill="none" stroke-dasharray="1.6 1.6"/>
<path d="M655 366L690 366" stroke="#666" stroke-width="0.8" fill="none" />
<path d="M689 347L697 347" stroke="#555" stroke-width="0.6" fill="none" />
<path d="M697 347L697 361" stroke="#555" stroke-width="0.6" fill="none" />
<path d="M456 347L466 347" stroke="#555" stroke-width="0.6" fill="none" />
<path d="M447 347L447 361" stroke="#555" stroke-width="0.6" fill="none" />
<use href="#ld" x="0" y="0"/>
<use href="#ul" x="0" y="0"/>
<use href="#sb" x="0" y="0"/>
<use href="#ld" x="492.5" y="0"/>
<use href="#ul" x="492.5" y="0"/>
<use href="#sb" x="492.5" y="0"/>
<use href="#ulb" x="0" y="0"/>
<rect x="727.4" y="332.5" width="20.6" height="2.5" fill="#30b0a0" stroke="#1a5a5a" stroke-width="0.4"/>
<path d="M720.6 335L758 335L762.6 337.2L720.6 337.2Z" fill="#14141a"/>
<use href="#gb" x="0" y="0"/>
<use href="#wb" x="0" y="0"/>
<use href="#gb" x="827.1" y="30"/>
<use href="#wb" x="823.2" y="32"/>
<path d="M79.5 70L59.75 70L59.75 163" fill="none" stroke="#6c8cc0" stroke-width="1"/>
<path d="M317 24.75L261.25 24.75L261.25 72" fill="none" stroke="#6c8cc0" stroke-width="1"/>
<path d="M534.5 74L556.6 74L556.6 163" fill="none" stroke="#6c8cc0" stroke-width="1"/>
<path d="M642 57L642 103.6" fill="none" stroke="#6c8cc0" stroke-width="1"/>
<path d="M826.5 46.5L766 46.5L766 72" fill="none" stroke="#6c8cc0" stroke-width="1"/>
<path d="M395.5 125L363.4 125L363.4 169" fill="none" stroke="#6c8cc0" stroke-width="1"/>
<path d="M870 123L824.6 123L824.6 150" fill="none" stroke="#6c8cc0" stroke-width="1"/>
<path d="M775.5 178L796 178L796 155" fill="none" stroke="#6c8cc0" stroke-width="1"/>
<path d="M708 253.5L728.2 253.5L728.2 231" fill="none" stroke="#6c8cc0" stroke-width="1"/>
<path d="M438 298L365.5 298" fill="none" stroke="#6c8cc0" stroke-width="1"/>
<path d="M860 352L854 352L854 294" fill="none" stroke="#6c8cc0" stroke-width="1"/>
<path d="M169 393L162.75 393L162.75 367L162 327.5" fill="none" stroke="#6c8cc0" stroke-width="1"/>
<path d="M245 393L237.75 393L237.75 326" fill="none" stroke="#6c8cc0" stroke-width="1"/>
<path d="M422 392.5L372.5 392.5L372.5 341" fill="none" stroke="#6c8cc0" stroke-width="1"/>
<path d="M671.5 394.5L665.6 394.5L665.6 327.5" fill="none" stroke="#6c8cc0" stroke-width="1"/>
<path d="M756.5 397L751 397L751 334" fill="none" stroke="#6c8cc0" stroke-width="1"/>
<rect x="79.5" y="56.5" width="78" height="26" fill="#ffff00" stroke="#7f9ccc" stroke-width="1.1"/>
<text class="lb" x="89 104 119 134" y="75">立加三序</text>
<path d="M153.7 69.6v3.1h-4.2m1.9 -1.7l-2 1.7 2 1.7" fill="none" stroke="#7888c0" stroke-width=".8"/>
<path d="M87.5 77.4q.6 -1 1.2 0t1.2 0q.6 -1 1.2 0t1.2 0q.6 -1 1.2 0t1.2 0q.6 -1 1.2 0t1.2 0q.6 -1 1.2 0t1.2 0q.6 -1 1.2 0t1.2 0q.6 -1 1.2 0t1.2 0q.6 -1 1.2 0t1.2 0q.6 -1 1.2 0t1.2 0q.6 -1 1.2 0t1.2 0q.6 -1 1.2 0t1.2 0q.6 -1 1.2 0t1.2 0q.6 -1 1.2 0t1.2 0q.6 -1 1.2 0t1.2 0q.6 -1 1.2 0t1.2 0q.6 -1 1.2 0t1.2 0q.6 -1 1.2 0t1.2 0q.6 -1 1.2 0t1.2 0q.6 -1 1.2 0t1.2 0" fill="none" stroke="#50b010" stroke-width="1"/>
<rect x="317" y="12" width="79" height="24.5" fill="#ffff00" stroke="#7f9ccc" stroke-width="1.1"/>
<text class="lb" x="327 342 357 372" y="29.75">车床二序</text>
<path d="M391.7 24.35v3.1h-4.2m1.9 -1.7l-2 1.7 2 1.7" fill="none" stroke="#7888c0" stroke-width=".8"/>
<rect x="459.5" y="62.5" width="75" height="25" fill="#ffff00" stroke="#7f9ccc" stroke-width="1.1"/>
<text class="lb" x="467.5 482.5 497.5 512.5" y="80.5">立加三序</text>
<path d="M532.2 75.1v3.1h-4.2m1.9 -1.7l-2 1.7 2 1.7" fill="none" stroke="#7888c0" stroke-width=".8"/>
<path d="M466 82.9q.6 -1 1.2 0t1.2 0q.6 -1 1.2 0t1.2 0q.6 -1 1.2 0t1.2 0q.6 -1 1.2 0t1.2 0q.6 -1 1.2 0t1.2 0q.6 -1 1.2 0t1.2 0q.6 -1 1.2 0t1.2 0q.6 -1 1.2 0t1.2 0q.6 -1 1.2 0t1.2 0q.6 -1 1.2 0t1.2 0q.6 -1 1.2 0t1.2 0q.6 -1 1.2 0t1.2 0q.6 -1 1.2 0t1.2 0q.6 -1 1.2 0t1.2 0q.6 -1 1.2 0t1.2 0q.6 -1 1.2 0t1.2 0q.6 -1 1.2 0t1.2 0q.6 -1 1.2 0t1.2 0q.6 -1 1.2 0t1.2 0" fill="none" stroke="#50b010" stroke-width="1"/>
<rect x="550.5" y="31" width="107" height="26" fill="#ffff00" stroke="#7f9ccc" stroke-width="1.1"/>
<text class="lb" x="559.5 574.5 589.5 604.5 619.5 634.5" y="49.5">吹气清屑装置</text>
<path d="M654.2 44.1v3.1h-4.2m1.9 -1.7l-2 1.7 2 1.7" fill="none" stroke="#7888c0" stroke-width=".8"/>
<path d="M558 51.9q.6 -1 1.2 0t1.2 0q.6 -1 1.2 0t1.2 0q.6 -1 1.2 0t1.2 0q.6 -1 1.2 0t1.2 0q.6 -1 1.2 0t1.2 0q.6 -1 1.2 0t1.2 0q.6 -1 1.2 0t1.2 0q.6 -1 1.2 0t1.2 0q.6 -1 1.2 0t1.2 0q.6 -1 1.2 0t1.2 0q.6 -1 1.2 0t1.2 0q.6 -1 1.2 0t1.2 0q.6 -1 1.2 0t1.2 0q.6 -1 1.2 0t1.2 0q.6 -1 1.2 0t1.2 0q.6 -1 1.2 0t1.2 0q.6 -1 1.2 0t1.2 0q.6 -1 1.2 0t1.2 0q.6 -1 1.2 0t1.2 0q.6 -1 1.2 0t1.2 0q.6 -1 1.2 0t1.2 0q.6 -1 1.2 0t1.2 0q.6 -1 1.2 0t1.2 0q.6 -1 1.2 0t1.2 0q.6 -1 1.2 0t1.2 0" fill="none" stroke="#50b010" stroke-width="1"/>
<rect x="826.5" y="33.5" width="81.5" height="26" fill="#ffff00" stroke="#7f9ccc" stroke-width="1.1"/>
<text class="lb" x="837.75 852.75 867.75 882.75" y="52">车床二序</text>
<path d="M902.45 46.6v3.1h-4.2m1.9 -1.7l-2 1.7 2 1.7" fill="none" stroke="#7888c0" stroke-width=".8"/>
<rect x="395.5" y="113" width="82" height="23.5" fill="#ffff00" stroke="#7f9ccc" stroke-width="1.1"/>
<text class="lb" x="407 422 437 452" y="130.25">车床一序</text>
<path d="M471.7 124.85v3.1h-4.2m1.9 -1.7l-2 1.7 2 1.7" fill="none" stroke="#7888c0" stroke-width=".8"/>
<rect x="870" y="108.5" width="86" height="28" fill="#ffff00" stroke="#7f9ccc" stroke-width="1.1"/>
<text class="lb" x="883.5 898.5 913.5 928.5" y="128">车床一序</text>
<path d="M948.2 122.6v3.1h-4.2m1.9 -1.7l-2 1.7 2 1.7" fill="none" stroke="#7888c0" stroke-width=".8"/>
<rect x="711" y="167" width="64.5" height="23" fill="#ffff00" stroke="#7f9ccc" stroke-width="1.1"/>
<text class="lb" x="721.25 736.25 751.25" y="184">检测机</text>
<path d="M770.95 178.6v3.1h-4.2m1.9 -1.7l-2 1.7 2 1.7" fill="none" stroke="#7888c0" stroke-width=".8"/>
<rect x="642.5" y="242.5" width="65.5" height="23" fill="#ffff00" stroke="#7f9ccc" stroke-width="1.1"/>
<text class="lb" x="653.25 668.25 683.25" y="259.5">机器人</text>
<path d="M702.95 254.1v3.1h-4.2m1.9 -1.7l-2 1.7 2 1.7" fill="none" stroke="#7888c0" stroke-width=".8"/>
<rect x="438" y="286" width="79.5" height="23" fill="#ffff00" stroke="#7f9ccc" stroke-width="1.1"/>
<text class="lb" x="448.25 463.25 478.25 493.25" y="303">废品料道</text>
<path d="M512.95 297.6v3.1h-4.2m1.9 -1.7l-2 1.7 2 1.7" fill="none" stroke="#7888c0" stroke-width=".8"/>
<rect x="860" y="340" width="80.5" height="23" fill="#ffff00" stroke="#7f9ccc" stroke-width="1.1"/>
<text class="lb" x="870.75 885.75 900.75 915.75" y="357">废品料道</text>
<path d="M935.45 351.6v3.1h-4.2m1.9 -1.7l-2 1.7 2 1.7" fill="none" stroke="#7888c0" stroke-width=".8"/>
<rect x="169" y="381.5" width="65" height="23" fill="#ffff00" stroke="#7f9ccc" stroke-width="1.1"/>
<text class="lb" x="179.5 194.5 209.5" y="398.5">上料道</text>
<path d="M229.2 393.1v3.1h-4.2m1.9 -1.7l-2 1.7 2 1.7" fill="none" stroke="#7888c0" stroke-width=".8"/>
<rect x="245" y="381.5" width="63.5" height="22.5" fill="#ffff00" stroke="#7f9ccc" stroke-width="1.1"/>
<text class="lb" x="254.75 269.75 284.75" y="398.25">下料道</text>
<path d="M304.45 392.85v3.1h-4.2m1.9 -1.7l-2 1.7 2 1.7" fill="none" stroke="#7888c0" stroke-width=".8"/>
<rect x="422" y="381.5" width="129" height="22.5" fill="#ffff00" stroke="#7f9ccc" stroke-width="1.1"/>
<text class="lb" x="434.5 449.5 464.5 479.5 494.5 509.5 524.5" y="398.25">双层辊筒长料道</text>
<path d="M544.2 392.85v3.1h-4.2m1.9 -1.7l-2 1.7 2 1.7" fill="none" stroke="#7888c0" stroke-width=".8"/>
<rect x="671.5" y="382.5" width="64" height="22.5" fill="#ffff00" stroke="#7f9ccc" stroke-width="1.1"/>
<text class="lb" x="681.5 696.5 711.5" y="399.25">上料道</text>
<path d="M731.2 393.85v3.1h-4.2m1.9 -1.7l-2 1.7 2 1.7" fill="none" stroke="#7888c0" stroke-width=".8"/>
<rect x="756.5" y="384.5" width="65" height="23" fill="#ffff00" stroke="#7f9ccc" stroke-width="1.1"/>
<text class="lb" x="767 782 797" y="401.5">下料道</text>
<path d="M816.7 396.1v3.1h-4.2m1.9 -1.7l-2 1.7 2 1.7" fill="none" stroke="#7888c0" stroke-width=".8"/>
</svg>
</body></html>
